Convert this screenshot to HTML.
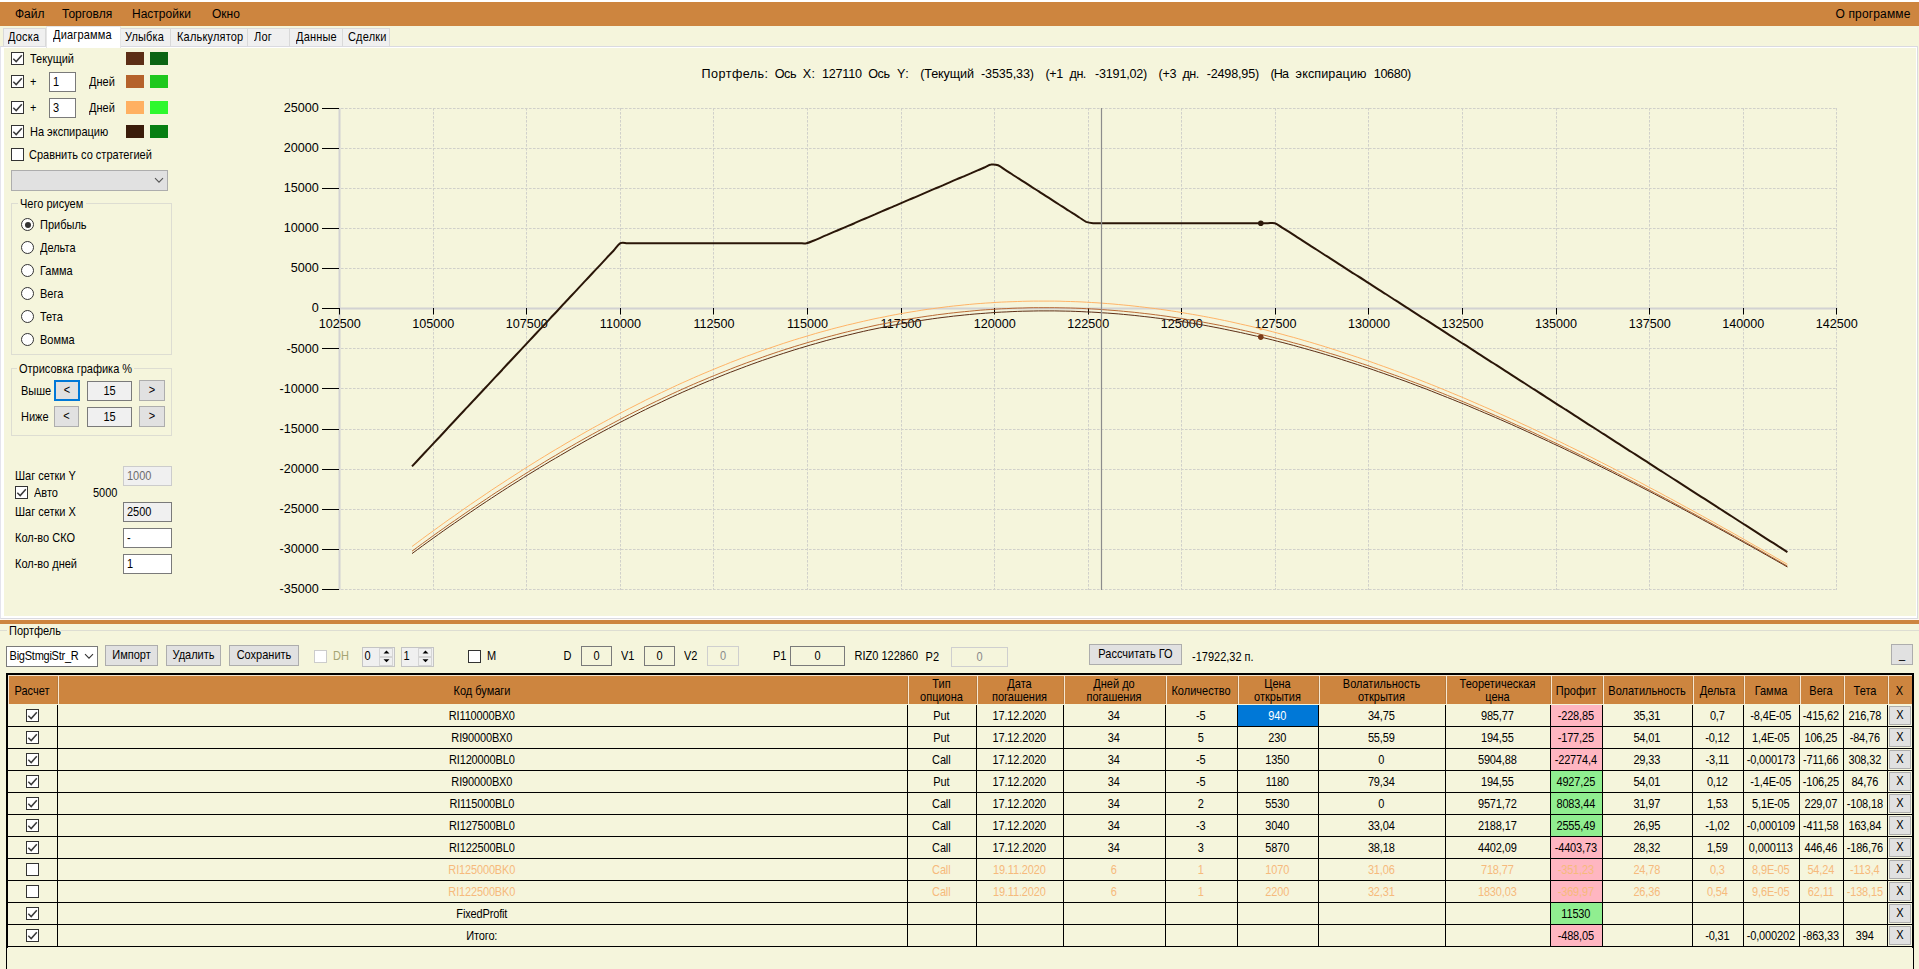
<!DOCTYPE html>
<html lang="ru"><head><meta charset="utf-8"><title>Диаграмма</title>
<style>
html,body{margin:0;padding:0;}
body{width:1919px;height:969px;overflow:hidden;position:relative;background:#F5F5DC;
 font-family:"Liberation Sans",sans-serif;font-size:11px;color:#000;}
div,span.t{position:absolute;box-sizing:content-box;white-space:pre;}
.cb svg{position:absolute;left:-1px;top:-1px;}
.rb{border:1px solid #333;border-radius:50%;background:#fff;}
.rb i{position:absolute;left:2.5px;top:2.5px;width:6px;height:6px;border-radius:50%;background:#333;}
.tb,.btn{overflow:hidden;}
.s{display:inline-block;text-indent:0;transform:scaleY(1.1);transform-origin:50% 66%;}
svg{position:absolute;}
</style></head><body>
<div style="left:0px;top:0px;width:1919px;height:2px;background:#fff;"></div>
<div style="left:0px;top:2px;width:1919px;height:24px;background:#CD853F;"></div>
<span class="t" style="top:5.70px;font-size:12px;line-height:16px;left:15px;">Файл</span>
<span class="t" style="top:5.70px;font-size:12px;line-height:16px;left:62px;">Торговля</span>
<span class="t" style="top:5.70px;font-size:12px;line-height:16px;left:132px;">Настройки</span>
<span class="t" style="top:5.70px;font-size:12px;line-height:16px;left:212px;">Окно</span>
<span class="t" style="top:5.70px;font-size:12px;line-height:16px;left:1510.5px;width:400px;text-align:right;letter-spacing:0.15px;">О программе</span>
<div style="left:3px;top:28px;width:41px;height:18px;background:#F0F0F0;border:1px solid #D9D9D9;border-bottom:none;"></div>
<span class="t" style="top:30.30px;font-size:11px;line-height:14px;transform:scaleY(1.1);transform-origin:0 11.0px;left:8px;letter-spacing:0.18px;">Доска</span>
<div style="left:120px;top:28px;width:49px;height:18px;background:#F0F0F0;border:1px solid #D9D9D9;border-bottom:none;"></div>
<span class="t" style="top:30.30px;font-size:11px;line-height:14px;transform:scaleY(1.1);transform-origin:0 11.0px;left:125px;letter-spacing:0.18px;">Улыбка</span>
<div style="left:170px;top:28px;width:76px;height:18px;background:#F0F0F0;border:1px solid #D9D9D9;border-bottom:none;"></div>
<span class="t" style="top:30.30px;font-size:11px;line-height:14px;transform:scaleY(1.1);transform-origin:0 11.0px;left:177px;letter-spacing:0.18px;">Калькулятор</span>
<div style="left:247px;top:28px;width:41px;height:18px;background:#F0F0F0;border:1px solid #D9D9D9;border-bottom:none;"></div>
<span class="t" style="top:30.30px;font-size:11px;line-height:14px;transform:scaleY(1.1);transform-origin:0 11.0px;left:254px;letter-spacing:0.18px;">Лог</span>
<div style="left:289px;top:28px;width:52px;height:18px;background:#F0F0F0;border:1px solid #D9D9D9;border-bottom:none;"></div>
<span class="t" style="top:30.30px;font-size:11px;line-height:14px;transform:scaleY(1.1);transform-origin:0 11.0px;left:296px;letter-spacing:0.18px;">Данные</span>
<div style="left:342px;top:28px;width:46px;height:18px;background:#F0F0F0;border:1px solid #D9D9D9;border-bottom:none;"></div>
<span class="t" style="top:30.30px;font-size:11px;line-height:14px;transform:scaleY(1.1);transform-origin:0 11.0px;left:348px;letter-spacing:0.18px;">Сделки</span>
<div style="left:0px;top:46px;width:1916px;height:571px;background:#F5F5DC;border:1px solid #DADAE0;border-left:1px solid #E4E4EC;box-shadow:inset 3px 1px 0 #fff, inset -1px -2px 0 #fff;"></div>
<div style="left:46px;top:26px;width:73px;height:21px;background:#fff;border:1px solid #E5E5E5;border-bottom:none;"></div>
<span class="t" style="top:28.20px;font-size:11px;line-height:14px;transform:scaleY(1.1);transform-origin:0 11.0px;left:53px;letter-spacing:0.18px;">Диаграмма</span>
<div class="cb" style="left:11px;top:52px;width:11px;height:11px;border:1px solid #333;background:#fff;"><svg viewBox="0 0 13 13" width="13" height="13"><path d="M2.3 6.8 L5.2 9.6 L10.8 3.2" fill="none" stroke="#3A3A3A" stroke-width="1.5"/></svg></div>
<div style="left:126px;top:52px;width:18px;height:13px;background:#5C2E16;"></div>
<div style="left:150px;top:52px;width:18px;height:13px;background:#0B6413;"></div>
<div class="cb" style="left:11px;top:75px;width:11px;height:11px;border:1px solid #333;background:#fff;"><svg viewBox="0 0 13 13" width="13" height="13"><path d="M2.3 6.8 L5.2 9.6 L10.8 3.2" fill="none" stroke="#3A3A3A" stroke-width="1.5"/></svg></div>
<div style="left:126px;top:75px;width:18px;height:13px;background:#B5622B;"></div>
<div style="left:150px;top:75px;width:18px;height:13px;background:#1EC81E;"></div>
<div class="cb" style="left:11px;top:101px;width:11px;height:11px;border:1px solid #333;background:#fff;"><svg viewBox="0 0 13 13" width="13" height="13"><path d="M2.3 6.8 L5.2 9.6 L10.8 3.2" fill="none" stroke="#3A3A3A" stroke-width="1.5"/></svg></div>
<div style="left:126px;top:101px;width:18px;height:13px;background:#FFB061;"></div>
<div style="left:150px;top:101px;width:18px;height:13px;background:#2EF82E;"></div>
<div class="cb" style="left:11px;top:125px;width:11px;height:11px;border:1px solid #333;background:#fff;"><svg viewBox="0 0 13 13" width="13" height="13"><path d="M2.3 6.8 L5.2 9.6 L10.8 3.2" fill="none" stroke="#3A3A3A" stroke-width="1.5"/></svg></div>
<div style="left:126px;top:125px;width:18px;height:13px;background:#3A1C0A;"></div>
<div style="left:150px;top:125px;width:18px;height:13px;background:#077F12;"></div>
<span class="t" style="top:51.70px;font-size:11px;line-height:14px;transform:scaleY(1.1);transform-origin:0 11.0px;left:30px;">Текущий</span>
<span class="t" style="top:74.70px;font-size:11px;line-height:14px;transform:scaleY(1.1);transform-origin:0 11.0px;left:30px;">+</span>
<div class="tb" style="left:49px;top:72px;width:25px;height:18px;background:#fff;border:1px solid #7A7A7A;color:#000;line-height:18px;text-align:left;text-indent:3px;"><span class="s">1</span></div>
<span class="t" style="top:74.70px;font-size:11px;line-height:14px;transform:scaleY(1.1);transform-origin:0 11.0px;left:89px;">Дней</span>
<span class="t" style="top:100.70px;font-size:11px;line-height:14px;transform:scaleY(1.1);transform-origin:0 11.0px;left:30px;">+</span>
<div class="tb" style="left:49px;top:98px;width:25px;height:18px;background:#fff;border:1px solid #7A7A7A;color:#000;line-height:18px;text-align:left;text-indent:3px;"><span class="s">3</span></div>
<span class="t" style="top:100.70px;font-size:11px;line-height:14px;transform:scaleY(1.1);transform-origin:0 11.0px;left:89px;">Дней</span>
<span class="t" style="top:124.70px;font-size:11px;line-height:14px;transform:scaleY(1.1);transform-origin:0 11.0px;left:30px;">На экспирацию</span>
<div class="cb" style="left:11px;top:148px;width:11px;height:11px;border:1px solid #333;background:#fff;"></div>
<span class="t" style="top:147.70px;font-size:11px;line-height:14px;transform:scaleY(1.1);transform-origin:0 11.0px;left:29px;">Сравнить со стратегией</span>
<div style="left:11px;top:170px;width:155px;height:19px;background:#E1E1E1;border:1px solid #ADADAD;"></div>
<svg style="left:154px;top:177px" width="10" height="7" viewBox="0 0 10 7"><path d="M1 1.2 L5 5.2 L9 1.2" fill="none" stroke="#555" stroke-width="1.1"/></svg>
<div style="left:11px;top:203px;width:159px;height:150px;border:1px solid #DDDDD2;"></div>
<div style="left:18px;top:197px;width:68px;height:13px;background:#F5F5DC;"></div>
<span class="t" style="top:197.30px;font-size:11px;line-height:14px;transform:scaleY(1.1);transform-origin:0 11.0px;left:20px;">Чего рисуем</span>
<div class="rb" style="left:21px;top:218.0px;width:11px;height:11px;"><i></i></div>
<span class="t" style="top:217.70px;font-size:11px;line-height:14px;transform:scaleY(1.1);transform-origin:0 11.0px;left:40px;">Прибыль</span>
<div class="rb" style="left:21px;top:241.0px;width:11px;height:11px;"></div>
<span class="t" style="top:240.70px;font-size:11px;line-height:14px;transform:scaleY(1.1);transform-origin:0 11.0px;left:40px;">Дельта</span>
<div class="rb" style="left:21px;top:264.0px;width:11px;height:11px;"></div>
<span class="t" style="top:263.70px;font-size:11px;line-height:14px;transform:scaleY(1.1);transform-origin:0 11.0px;left:40px;">Гамма</span>
<div class="rb" style="left:21px;top:287.0px;width:11px;height:11px;"></div>
<span class="t" style="top:286.70px;font-size:11px;line-height:14px;transform:scaleY(1.1);transform-origin:0 11.0px;left:40px;">Вега</span>
<div class="rb" style="left:21px;top:310.0px;width:11px;height:11px;"></div>
<span class="t" style="top:309.70px;font-size:11px;line-height:14px;transform:scaleY(1.1);transform-origin:0 11.0px;left:40px;">Тета</span>
<div class="rb" style="left:21px;top:333.0px;width:11px;height:11px;"></div>
<span class="t" style="top:332.70px;font-size:11px;line-height:14px;transform:scaleY(1.1);transform-origin:0 11.0px;left:40px;">Вомма</span>
<div style="left:11px;top:368px;width:159px;height:66px;border:1px solid #DDDDD2;"></div>
<div style="left:17px;top:362px;width:117px;height:13px;background:#F5F5DC;"></div>
<span class="t" style="top:362.30px;font-size:11px;line-height:14px;transform:scaleY(1.1);transform-origin:0 11.0px;left:19px;">Отрисовка графика %</span>
<span class="t" style="top:383.60px;font-size:11px;line-height:14px;transform:scaleY(1.1);transform-origin:0 11.0px;left:21px;">Выше</span>
<div class="btn" style="left:54px;top:380px;width:22px;height:17px;background:#E1E1E1;border:2px solid #0078D7;line-height:17px;text-align:center;font-size:11px;"><span class="s">&lt;</span></div>
<div class="tb" style="left:87px;top:381px;width:43px;height:18px;background:#F0F0F0;border:1px solid #7A7A7A;color:#000;line-height:18px;text-align:center;text-indent:0px;"><span class="s">15</span></div>
<div class="btn" style="left:139px;top:380px;width:24px;height:19px;background:#E1E1E1;border:1px solid #ADADAD;line-height:19px;text-align:center;font-size:11px;"><span class="s">&gt;</span></div>
<span class="t" style="top:409.60px;font-size:11px;line-height:14px;transform:scaleY(1.1);transform-origin:0 11.0px;left:21px;">Ниже</span>
<div class="btn" style="left:54px;top:406px;width:23px;height:19px;background:#E1E1E1;border:1px solid #ADADAD;line-height:19px;text-align:center;font-size:11px;"><span class="s">&lt;</span></div>
<div class="tb" style="left:87px;top:407px;width:43px;height:18px;background:#F0F0F0;border:1px solid #7A7A7A;color:#000;line-height:18px;text-align:center;text-indent:0px;"><span class="s">15</span></div>
<div class="btn" style="left:139px;top:406px;width:24px;height:19px;background:#E1E1E1;border:1px solid #ADADAD;line-height:19px;text-align:center;font-size:11px;"><span class="s">&gt;</span></div>
<span class="t" style="top:468.70px;font-size:11px;line-height:14px;transform:scaleY(1.1);transform-origin:0 11.0px;left:15px;">Шаг сетки Y</span>
<div class="tb" style="left:123px;top:466px;width:47px;height:18px;background:#F0F0F0;border:1px solid #CCCCCC;color:#6D6D6D;line-height:18px;text-align:left;text-indent:3px;"><span class="s">1000</span></div>
<div class="cb" style="left:15px;top:486px;width:11px;height:11px;border:1px solid #333;background:#fff;"><svg viewBox="0 0 13 13" width="13" height="13"><path d="M2.3 6.8 L5.2 9.6 L10.8 3.2" fill="none" stroke="#3A3A3A" stroke-width="1.5"/></svg></div>
<span class="t" style="top:485.90px;font-size:11px;line-height:14px;transform:scaleY(1.1);transform-origin:0 11.0px;left:34px;">Авто</span>
<span class="t" style="top:485.90px;font-size:11px;line-height:14px;transform:scaleY(1.1);transform-origin:0 11.0px;left:93px;">5000</span>
<span class="t" style="top:504.60px;font-size:11px;line-height:14px;transform:scaleY(1.1);transform-origin:0 11.0px;left:15px;">Шаг сетки X</span>
<div class="tb" style="left:123px;top:502px;width:47px;height:18px;background:#F0F0F0;border:1px solid #7A7A7A;color:#000;line-height:18px;text-align:left;text-indent:3px;"><span class="s">2500</span></div>
<span class="t" style="top:530.90px;font-size:11px;line-height:14px;transform:scaleY(1.1);transform-origin:0 11.0px;left:15px;">Кол-во СКО</span>
<div class="tb" style="left:123px;top:528px;width:47px;height:18px;background:#fff;border:1px solid #7A7A7A;color:#000;line-height:18px;text-align:left;text-indent:3px;"><span class="s">-</span></div>
<span class="t" style="top:556.90px;font-size:11px;line-height:14px;transform:scaleY(1.1);transform-origin:0 11.0px;left:15px;">Кол-во дней</span>
<div class="tb" style="left:123px;top:554px;width:47px;height:18px;background:#fff;border:1px solid #7A7A7A;color:#000;line-height:18px;text-align:left;text-indent:3px;"><span class="s">1</span></div>
<svg style="left:0;top:47px" width="1916" height="569" viewBox="0 47 1916 569" font-family="'Liberation Sans',sans-serif">
<path d="M341 108.5H1837 M341 148.5H1837 M341 188.5H1837 M341 228.5H1837 M341 268.5H1837 M341 348.5H1837 M341 388.5H1837 M341 429.5H1837 M341 469.5H1837 M341 509.5H1837 M341 549.5H1837 M341 589.5H1837 M433.5 108V590 M526.5 108V590 M620.5 108V590 M713.5 108V590 M807.5 108V590 M901.5 108V590 M994.5 108V590 M1088.5 108V590 M1181.5 108V590 M1275.5 108V590 M1368.5 108V590 M1462.5 108V590 M1556.5 108V590 M1649.5 108V590 M1743.5 108V590 M1836.5 108V590" stroke="#D0D0CA" stroke-width="1" stroke-dasharray="2.6 1.4" fill="none"/>
<path d="M339.5 108V590 M339 308.5H1837.5" stroke="#D2D2D2" stroke-width="2" fill="none"/>
<path d="M322 108.5H339 M322 148.5H339 M322 188.5H339 M322 228.5H339 M322 268.5H339 M322 308.5H339 M322 348.5H339 M322 388.5H339 M322 429.5H339 M322 469.5H339 M322 509.5H339 M322 549.5H339 M322 589.5H339 M339.5 308V314.5 M433.5 308V314.5 M526.5 308V314.5 M620.5 308V314.5 M713.5 308V314.5 M807.5 308V314.5 M901.5 308V314.5 M994.5 308V314.5 M1088.5 308V314.5 M1181.5 308V314.5 M1275.5 308V314.5 M1368.5 308V314.5 M1462.5 308V314.5 M1556.5 308V314.5 M1649.5 308V314.5 M1743.5 308V314.5 M1836.5 308V314.5" stroke="#000" stroke-width="1" fill="none"/>
<text transform="translate(318.8 112.0) scale(1 1.07)" font-size="12.6" text-anchor="end">25000</text>
<text transform="translate(318.8 152.1) scale(1 1.07)" font-size="12.6" text-anchor="end">20000</text>
<text transform="translate(318.8 192.2) scale(1 1.07)" font-size="12.6" text-anchor="end">15000</text>
<text transform="translate(318.8 232.3) scale(1 1.07)" font-size="12.6" text-anchor="end">10000</text>
<text transform="translate(318.8 272.3) scale(1 1.07)" font-size="12.6" text-anchor="end">5000</text>
<text transform="translate(318.8 312.4) scale(1 1.07)" font-size="12.6" text-anchor="end">0</text>
<text transform="translate(318.8 352.5) scale(1 1.07)" font-size="12.6" text-anchor="end">-5000</text>
<text transform="translate(318.8 392.6) scale(1 1.07)" font-size="12.6" text-anchor="end">-10000</text>
<text transform="translate(318.8 432.6) scale(1 1.07)" font-size="12.6" text-anchor="end">-15000</text>
<text transform="translate(318.8 472.7) scale(1 1.07)" font-size="12.6" text-anchor="end">-20000</text>
<text transform="translate(318.8 512.8) scale(1 1.07)" font-size="12.6" text-anchor="end">-25000</text>
<text transform="translate(318.8 552.9) scale(1 1.07)" font-size="12.6" text-anchor="end">-30000</text>
<text transform="translate(318.8 592.9) scale(1 1.07)" font-size="12.6" text-anchor="end">-35000</text>
<text transform="translate(339.7 327.8) scale(1 1.07)" font-size="12.6" text-anchor="middle">102500</text>
<text transform="translate(433.3 327.8) scale(1 1.07)" font-size="12.6" text-anchor="middle">105000</text>
<text transform="translate(526.8 327.8) scale(1 1.07)" font-size="12.6" text-anchor="middle">107500</text>
<text transform="translate(620.4 327.8) scale(1 1.07)" font-size="12.6" text-anchor="middle">110000</text>
<text transform="translate(714.0 327.8) scale(1 1.07)" font-size="12.6" text-anchor="middle">112500</text>
<text transform="translate(807.5 327.8) scale(1 1.07)" font-size="12.6" text-anchor="middle">115000</text>
<text transform="translate(901.1 327.8) scale(1 1.07)" font-size="12.6" text-anchor="middle">117500</text>
<text transform="translate(994.7 327.8) scale(1 1.07)" font-size="12.6" text-anchor="middle">120000</text>
<text transform="translate(1088.3 327.8) scale(1 1.07)" font-size="12.6" text-anchor="middle">122500</text>
<text transform="translate(1181.8 327.8) scale(1 1.07)" font-size="12.6" text-anchor="middle">125000</text>
<text transform="translate(1275.4 327.8) scale(1 1.07)" font-size="12.6" text-anchor="middle">127500</text>
<text transform="translate(1369.0 327.8) scale(1 1.07)" font-size="12.6" text-anchor="middle">130000</text>
<text transform="translate(1462.5 327.8) scale(1 1.07)" font-size="12.6" text-anchor="middle">132500</text>
<text transform="translate(1556.1 327.8) scale(1 1.07)" font-size="12.6" text-anchor="middle">135000</text>
<text transform="translate(1649.7 327.8) scale(1 1.07)" font-size="12.6" text-anchor="middle">137500</text>
<text transform="translate(1743.3 327.8) scale(1 1.07)" font-size="12.6" text-anchor="middle">140000</text>
<text transform="translate(1836.8 327.8) scale(1 1.07)" font-size="12.6" text-anchor="middle">142500</text>
<text transform="translate(0 78) scale(1 1.06)" font-size="12.6"><tspan x="701.6" textLength="66.4" lengthAdjust="spacing">Портфель:</tspan> <tspan x="774.8" textLength="21.7" lengthAdjust="spacing">Ось</tspan> <tspan x="802.7" textLength="12.3" lengthAdjust="spacing">X:</tspan> <tspan x="822" textLength="40.0" lengthAdjust="spacing">127110</tspan> <tspan x="868.2" textLength="21.8" lengthAdjust="spacing">Ось</tspan> <tspan x="897" textLength="11.7" lengthAdjust="spacing">Y:</tspan> <tspan x="920.2" textLength="53.8" lengthAdjust="spacing">(Текущий</tspan> <tspan x="981" textLength="53.0" lengthAdjust="spacing">-3535,33)</tspan> <tspan x="1045.6" textLength="17.7" lengthAdjust="spacing">(+1</tspan> <tspan x="1069.6" textLength="16.7" lengthAdjust="spacing">дн.</tspan> <tspan x="1095" textLength="52.3" lengthAdjust="spacing">-3191,02)</tspan> <tspan x="1158.5" textLength="18.0" lengthAdjust="spacing">(+3</tspan> <tspan x="1182.5" textLength="16.7" lengthAdjust="spacing">дн.</tspan> <tspan x="1206.7" textLength="52.5" lengthAdjust="spacing">-2498,95)</tspan> <tspan x="1270.6" textLength="18.4" lengthAdjust="spacing">(На</tspan> <tspan x="1295.6" textLength="70.9" lengthAdjust="spacing">экспирацию</tspan> <tspan x="1373.8" textLength="37.5" lengthAdjust="spacing">10680)</tspan> </text>
<path d="M412.0 546.5 L417.3 542.6 L422.6 538.6 L427.9 534.7 L433.2 530.9 L438.5 527.0 L443.8 523.2 L449.1 519.4 L454.5 515.7 L459.8 511.9 L465.1 508.2 L470.4 504.5 L475.7 500.9 L481.0 497.3 L486.3 493.7 L491.6 490.1 L496.9 486.6 L502.3 483.1 L507.6 479.6 L512.9 476.2 L518.2 472.8 L523.5 469.4 L528.8 466.0 L534.1 462.7 L539.4 459.4 L544.7 456.2 L550.0 452.9 L555.4 449.7 L560.7 446.6 L566.0 443.4 L571.3 440.3 L576.6 437.3 L581.9 434.2 L587.2 431.2 L592.5 428.2 L597.8 425.3 L603.2 422.4 L608.5 419.5 L613.8 416.6 L619.1 413.8 L624.4 411.0 L629.7 408.3 L635.0 405.6 L640.3 402.9 L645.6 400.2 L650.9 397.6 L656.3 395.0 L661.6 392.5 L666.9 390.0 L672.2 387.5 L677.5 385.0 L682.8 382.6 L688.1 380.3 L693.4 377.9 L698.7 375.6 L704.1 373.3 L709.4 371.1 L714.7 368.9 L720.0 366.7 L725.3 364.6 L730.6 362.4 L735.9 360.4 L741.2 358.3 L746.5 356.3 L751.9 354.4 L757.2 352.4 L762.5 350.5 L767.8 348.7 L773.1 346.9 L778.4 345.1 L783.7 343.3 L789.0 341.6 L794.3 339.9 L799.6 338.3 L805.0 336.7 L810.3 335.1 L815.6 333.5 L820.9 332.0 L826.2 330.6 L831.5 329.1 L836.8 327.7 L842.1 326.4 L847.4 325.0 L852.8 323.8 L858.1 322.5 L863.4 321.3 L868.7 320.1 L874.0 318.9 L879.3 317.8 L884.6 316.8 L889.9 315.7 L895.2 314.7 L900.5 313.7 L905.9 312.8 L911.2 311.9 L916.5 311.1 L921.8 310.2 L927.1 309.4 L932.4 308.7 L937.7 308.0 L943.0 307.3 L948.3 306.6 L953.7 306.0 L959.0 305.5 L964.3 304.9 L969.6 304.4 L974.9 303.9 L980.2 303.5 L985.5 303.1 L990.8 302.8 L996.1 302.4 L1001.4 302.1 L1006.8 301.9 L1012.1 301.7 L1017.4 301.5 L1022.7 301.3 L1028.0 301.2 L1033.3 301.1 L1038.6 301.1 L1043.9 301.1 L1049.2 301.1 L1054.6 301.1 L1059.9 301.2 L1065.2 301.4 L1070.5 301.5 L1075.8 301.7 L1081.1 301.9 L1086.4 302.2 L1091.7 302.5 L1097.0 302.8 L1102.3 303.2 L1107.7 303.6 L1113.0 304.0 L1118.3 304.5 L1123.6 305.0 L1128.9 305.5 L1134.2 306.1 L1139.5 306.7 L1144.8 307.3 L1150.1 308.0 L1155.5 308.6 L1160.8 309.4 L1166.1 310.1 L1171.4 310.9 L1176.7 311.7 L1182.0 312.6 L1187.3 313.5 L1192.6 314.4 L1197.9 315.3 L1203.3 316.3 L1208.6 317.3 L1213.9 318.3 L1219.2 319.4 L1224.5 320.5 L1229.8 321.6 L1235.1 322.8 L1240.4 324.0 L1245.7 325.2 L1251.0 326.4 L1256.4 327.7 L1261.7 329.0 L1267.0 330.3 L1272.3 331.7 L1277.6 333.1 L1282.9 334.5 L1288.2 336.0 L1293.5 337.4 L1298.8 338.9 L1304.2 340.5 L1309.5 342.0 L1314.8 343.6 L1320.1 345.2 L1325.4 346.8 L1330.7 348.5 L1336.0 350.2 L1341.3 351.9 L1346.6 353.6 L1351.9 355.4 L1357.3 357.2 L1362.6 359.0 L1367.9 360.8 L1373.2 362.7 L1378.5 364.6 L1383.8 366.5 L1389.1 368.4 L1394.4 370.4 L1399.7 372.3 L1405.1 374.3 L1410.4 376.4 L1415.7 378.4 L1421.0 380.5 L1426.3 382.6 L1431.6 384.7 L1436.9 386.8 L1442.2 389.0 L1447.5 391.2 L1452.8 393.4 L1458.2 395.6 L1463.5 397.8 L1468.8 400.1 L1474.1 402.4 L1479.4 404.7 L1484.7 407.0 L1490.0 409.3 L1495.3 411.7 L1500.6 414.1 L1506.0 416.5 L1511.3 418.9 L1516.6 421.3 L1521.9 423.8 L1527.2 426.2 L1532.5 428.7 L1537.8 431.2 L1543.1 433.7 L1548.4 436.3 L1553.7 438.8 L1559.1 441.4 L1564.4 444.0 L1569.7 446.6 L1575.0 449.2 L1580.3 451.8 L1585.6 454.5 L1590.9 457.1 L1596.2 459.8 L1601.5 462.5 L1606.9 465.2 L1612.2 467.9 L1617.5 470.7 L1622.8 473.4 L1628.1 476.2 L1633.4 478.9 L1638.7 481.7 L1644.0 484.5 L1649.3 487.4 L1654.7 490.2 L1660.0 493.0 L1665.3 495.9 L1670.6 498.7 L1675.9 501.6 L1681.2 504.5 L1686.5 507.4 L1691.8 510.3 L1697.1 513.2 L1702.4 516.1 L1707.8 519.1 L1713.1 522.0 L1718.4 525.0 L1723.7 528.0 L1729.0 530.9 L1734.3 533.9 L1739.6 536.9 L1744.9 539.9 L1750.2 543.0 L1755.6 546.0 L1760.9 549.0 L1766.2 552.1 L1771.5 555.1 L1776.8 558.2 L1782.1 561.2 L1787.4 564.3" stroke="#FFB061" stroke-width="0.95" fill="none"/>
<path d="M412.0 551.2 L417.3 547.3 L422.6 543.4 L427.9 539.6 L433.2 535.7 L438.5 531.9 L443.8 528.2 L449.1 524.4 L454.5 520.7 L459.8 517.0 L465.1 513.3 L470.4 509.7 L475.7 506.1 L481.0 502.5 L486.3 499.0 L491.6 495.4 L496.9 491.9 L502.3 488.5 L507.6 485.0 L512.9 481.6 L518.2 478.3 L523.5 474.9 L528.8 471.6 L534.1 468.3 L539.4 465.1 L544.7 461.8 L550.0 458.6 L555.4 455.5 L560.7 452.3 L566.0 449.2 L571.3 446.2 L576.6 443.1 L581.9 440.1 L587.2 437.1 L592.5 434.2 L597.8 431.3 L603.2 428.4 L608.5 425.5 L613.8 422.7 L619.1 419.9 L624.4 417.2 L629.7 414.4 L635.0 411.7 L640.3 409.1 L645.6 406.5 L650.9 403.9 L656.3 401.3 L661.6 398.8 L666.9 396.3 L672.2 393.8 L677.5 391.4 L682.8 389.0 L688.1 386.6 L693.4 384.3 L698.7 382.0 L704.1 379.8 L709.4 377.5 L714.7 375.4 L720.0 373.2 L725.3 371.1 L730.6 369.0 L735.9 366.9 L741.2 364.9 L746.5 362.9 L751.9 361.0 L757.2 359.1 L762.5 357.2 L767.8 355.3 L773.1 353.5 L778.4 351.7 L783.7 350.0 L789.0 348.3 L794.3 346.6 L799.6 345.0 L805.0 343.4 L810.3 341.8 L815.6 340.3 L820.9 338.8 L826.2 337.3 L831.5 335.9 L836.8 334.5 L842.1 333.1 L847.4 331.8 L852.8 330.5 L858.1 329.3 L863.4 328.1 L868.7 326.9 L874.0 325.7 L879.3 324.6 L884.6 323.6 L889.9 322.5 L895.2 321.5 L900.5 320.5 L905.9 319.6 L911.2 318.7 L916.5 317.8 L921.8 317.0 L927.1 316.2 L932.4 315.5 L937.7 314.7 L943.0 314.1 L948.3 313.4 L953.7 312.8 L959.0 312.2 L964.3 311.7 L969.6 311.2 L974.9 310.7 L980.2 310.2 L985.5 309.8 L990.8 309.5 L996.1 309.1 L1001.4 308.8 L1006.8 308.6 L1012.1 308.3 L1017.4 308.1 L1022.7 308.0 L1028.0 307.8 L1033.3 307.7 L1038.6 307.7 L1043.9 307.7 L1049.2 307.7 L1054.6 307.7 L1059.9 307.8 L1065.2 307.9 L1070.5 308.0 L1075.8 308.2 L1081.1 308.4 L1086.4 308.7 L1091.7 308.9 L1097.0 309.2 L1102.3 309.6 L1107.7 310.0 L1113.0 310.4 L1118.3 310.8 L1123.6 311.3 L1128.9 311.8 L1134.2 312.3 L1139.5 312.9 L1144.8 313.5 L1150.1 314.1 L1155.5 314.8 L1160.8 315.5 L1166.1 316.2 L1171.4 317.0 L1176.7 317.8 L1182.0 318.6 L1187.3 319.5 L1192.6 320.3 L1197.9 321.3 L1203.3 322.2 L1208.6 323.2 L1213.9 324.2 L1219.2 325.2 L1224.5 326.3 L1229.8 327.4 L1235.1 328.5 L1240.4 329.7 L1245.7 330.9 L1251.0 332.1 L1256.4 333.3 L1261.7 334.6 L1267.0 335.9 L1272.3 337.2 L1277.6 338.6 L1282.9 339.9 L1288.2 341.3 L1293.5 342.8 L1298.8 344.2 L1304.2 345.7 L1309.5 347.2 L1314.8 348.8 L1320.1 350.4 L1325.4 352.0 L1330.7 353.6 L1336.0 355.2 L1341.3 356.9 L1346.6 358.6 L1351.9 360.3 L1357.3 362.1 L1362.6 363.8 L1367.9 365.6 L1373.2 367.5 L1378.5 369.3 L1383.8 371.2 L1389.1 373.1 L1394.4 375.0 L1399.7 376.9 L1405.1 378.9 L1410.4 380.9 L1415.7 382.9 L1421.0 384.9 L1426.3 386.9 L1431.6 389.0 L1436.9 391.1 L1442.2 393.2 L1447.5 395.4 L1452.8 397.5 L1458.2 399.7 L1463.5 401.9 L1468.8 404.1 L1474.1 406.4 L1479.4 408.6 L1484.7 410.9 L1490.0 413.2 L1495.3 415.5 L1500.6 417.8 L1506.0 420.2 L1511.3 422.6 L1516.6 425.0 L1521.9 427.4 L1527.2 429.8 L1532.5 432.2 L1537.8 434.7 L1543.1 437.2 L1548.4 439.7 L1553.7 442.2 L1559.1 444.7 L1564.4 447.3 L1569.7 449.8 L1575.0 452.4 L1580.3 455.0 L1585.6 457.6 L1590.9 460.2 L1596.2 462.8 L1601.5 465.5 L1606.9 468.2 L1612.2 470.8 L1617.5 473.5 L1622.8 476.3 L1628.1 479.0 L1633.4 481.7 L1638.7 484.5 L1644.0 487.2 L1649.3 490.0 L1654.7 492.8 L1660.0 495.6 L1665.3 498.4 L1670.6 501.2 L1675.9 504.1 L1681.2 506.9 L1686.5 509.8 L1691.8 512.6 L1697.1 515.5 L1702.4 518.4 L1707.8 521.3 L1713.1 524.2 L1718.4 527.2 L1723.7 530.1 L1729.0 533.0 L1734.3 536.0 L1739.6 539.0 L1744.9 541.9 L1750.2 544.9 L1755.6 547.9 L1760.9 550.9 L1766.2 553.9 L1771.5 557.0 L1776.8 560.0 L1782.1 563.0 L1787.4 566.1" stroke="#B5622B" stroke-width="0.95" fill="none"/>
<path d="M412.0 553.6 L417.3 549.7 L422.6 545.8 L427.9 542.0 L433.2 538.2 L438.5 534.4 L443.8 530.6 L449.1 526.9 L454.5 523.2 L459.8 519.5 L465.1 515.9 L470.4 512.3 L475.7 508.7 L481.0 505.1 L486.3 501.6 L491.6 498.1 L496.9 494.6 L502.3 491.1 L507.6 487.7 L512.9 484.3 L518.2 481.0 L523.5 477.6 L528.8 474.3 L534.1 471.1 L539.4 467.8 L544.7 464.6 L550.0 461.4 L555.4 458.3 L560.7 455.2 L566.0 452.1 L571.3 449.0 L576.6 446.0 L581.9 443.0 L587.2 440.0 L592.5 437.1 L597.8 434.2 L603.2 431.3 L608.5 428.5 L613.8 425.7 L619.1 422.9 L624.4 420.2 L629.7 417.5 L635.0 414.8 L640.3 412.1 L645.6 409.5 L650.9 406.9 L656.3 404.4 L661.6 401.9 L666.9 399.4 L672.2 396.9 L677.5 394.5 L682.8 392.1 L688.1 389.8 L693.4 387.5 L698.7 385.2 L704.1 382.9 L709.4 380.7 L714.7 378.6 L720.0 376.4 L725.3 374.3 L730.6 372.2 L735.9 370.2 L741.2 368.2 L746.5 366.2 L751.9 364.2 L757.2 362.3 L762.5 360.4 L767.8 358.6 L773.1 356.8 L778.4 355.0 L783.7 353.3 L789.0 351.6 L794.3 349.9 L799.6 348.3 L805.0 346.7 L810.3 345.1 L815.6 343.6 L820.9 342.1 L826.2 340.6 L831.5 339.2 L836.8 337.8 L842.1 336.5 L847.4 335.2 L852.8 333.9 L858.1 332.6 L863.4 331.4 L868.7 330.2 L874.0 329.1 L879.3 328.0 L884.6 326.9 L889.9 325.9 L895.2 324.9 L900.5 323.9 L905.9 323.0 L911.2 322.1 L916.5 321.2 L921.8 320.4 L927.1 319.6 L932.4 318.8 L937.7 318.1 L943.0 317.4 L948.3 316.8 L953.7 316.1 L959.0 315.6 L964.3 315.0 L969.6 314.5 L974.9 314.0 L980.2 313.6 L985.5 313.2 L990.8 312.8 L996.1 312.4 L1001.4 312.1 L1006.8 311.9 L1012.1 311.6 L1017.4 311.4 L1022.7 311.2 L1028.0 311.1 L1033.3 311.0 L1038.6 310.9 L1043.9 310.9 L1049.2 310.9 L1054.6 310.9 L1059.9 311.0 L1065.2 311.1 L1070.5 311.2 L1075.8 311.4 L1081.1 311.6 L1086.4 311.9 L1091.7 312.1 L1097.0 312.4 L1102.3 312.8 L1107.7 313.1 L1113.0 313.5 L1118.3 313.9 L1123.6 314.4 L1128.9 314.9 L1134.2 315.4 L1139.5 316.0 L1144.8 316.6 L1150.1 317.2 L1155.5 317.9 L1160.8 318.5 L1166.1 319.3 L1171.4 320.0 L1176.7 320.8 L1182.0 321.6 L1187.3 322.4 L1192.6 323.3 L1197.9 324.2 L1203.3 325.1 L1208.6 326.1 L1213.9 327.1 L1219.2 328.1 L1224.5 329.2 L1229.8 330.3 L1235.1 331.4 L1240.4 332.5 L1245.7 333.7 L1251.0 334.9 L1256.4 336.1 L1261.7 337.3 L1267.0 338.6 L1272.3 339.9 L1277.6 341.3 L1282.9 342.6 L1288.2 344.0 L1293.5 345.4 L1298.8 346.9 L1304.2 348.4 L1309.5 349.9 L1314.8 351.4 L1320.1 352.9 L1325.4 354.5 L1330.7 356.1 L1336.0 357.7 L1341.3 359.4 L1346.6 361.1 L1351.9 362.8 L1357.3 364.5 L1362.6 366.3 L1367.9 368.0 L1373.2 369.8 L1378.5 371.7 L1383.8 373.5 L1389.1 375.4 L1394.4 377.3 L1399.7 379.2 L1405.1 381.1 L1410.4 383.1 L1415.7 385.1 L1421.0 387.1 L1426.3 389.1 L1431.6 391.2 L1436.9 393.3 L1442.2 395.4 L1447.5 397.5 L1452.8 399.6 L1458.2 401.8 L1463.5 403.9 L1468.8 406.1 L1474.1 408.4 L1479.4 410.6 L1484.7 412.9 L1490.0 415.1 L1495.3 417.4 L1500.6 419.7 L1506.0 422.1 L1511.3 424.4 L1516.6 426.8 L1521.9 429.2 L1527.2 431.6 L1532.5 434.0 L1537.8 436.5 L1543.1 438.9 L1548.4 441.4 L1553.7 443.9 L1559.1 446.4 L1564.4 448.9 L1569.7 451.5 L1575.0 454.0 L1580.3 456.6 L1585.6 459.2 L1590.9 461.8 L1596.2 464.4 L1601.5 467.0 L1606.9 469.7 L1612.2 472.3 L1617.5 475.0 L1622.8 477.7 L1628.1 480.4 L1633.4 483.1 L1638.7 485.8 L1644.0 488.6 L1649.3 491.3 L1654.7 494.1 L1660.0 496.9 L1665.3 499.7 L1670.6 502.5 L1675.9 505.3 L1681.2 508.1 L1686.5 511.0 L1691.8 513.8 L1697.1 516.7 L1702.4 519.6 L1707.8 522.5 L1713.1 525.4 L1718.4 528.3 L1723.7 531.2 L1729.0 534.1 L1734.3 537.1 L1739.6 540.0 L1744.9 543.0 L1750.2 545.9 L1755.6 548.9 L1760.9 551.9 L1766.2 554.9 L1771.5 557.9 L1776.8 560.9 L1782.1 563.9 L1787.4 567.0" stroke="#5C2E16" stroke-width="1.0" fill="none"/>
<path d="M412.0 466.4 C413.1 465.2 416.6 461.5 418.9 459.0 C421.2 456.5 423.6 454.0 425.9 451.5 C428.2 449.1 430.5 446.6 432.8 444.1 C435.1 441.6 437.4 439.1 439.8 436.7 C442.1 434.2 444.4 431.7 446.7 429.2 C449.0 426.7 451.3 424.3 453.7 421.8 C456.0 419.3 458.3 416.8 460.6 414.3 C462.9 411.9 465.2 409.4 467.6 406.9 C469.9 404.4 472.2 401.9 474.5 399.5 C476.8 397.0 479.1 394.5 481.5 392.0 C483.8 389.5 486.1 387.1 488.4 384.6 C490.7 382.1 493.0 379.6 495.3 377.1 C497.7 374.7 500.0 372.2 502.3 369.7 C504.6 367.2 506.9 364.7 509.2 362.3 C511.6 359.8 513.9 357.3 516.2 354.8 C518.5 352.3 520.8 349.9 523.1 347.4 C525.5 344.9 527.8 342.4 530.1 339.9 C532.4 337.5 534.7 335.0 537.0 332.5 C539.4 330.0 541.7 327.5 544.0 325.1 C546.3 322.6 548.6 320.1 550.9 317.6 C553.2 315.2 555.6 312.7 557.9 310.2 C560.2 307.7 562.5 305.2 564.8 302.8 C567.1 300.3 569.5 297.8 571.8 295.3 C574.1 292.8 576.4 290.4 578.7 287.9 C581.0 285.4 583.4 282.9 585.7 280.4 C588.0 278.0 590.3 275.5 592.6 273.0 C594.9 270.5 597.3 268.0 599.6 265.6 C601.9 263.1 604.2 260.6 606.5 258.1 C608.8 255.6 611.1 253.2 613.5 250.7 C615.8 248.2 618.1 244.5 620.4 243.2 C622.7 242.0 625.0 243.2 627.3 243.2 C629.6 243.2 631.9 243.2 634.2 243.2 C636.5 243.2 638.8 243.2 641.1 243.2 C643.4 243.2 645.7 243.2 648.0 243.2 C650.3 243.2 652.6 243.2 654.9 243.2 C657.2 243.2 659.5 243.2 661.8 243.2 C664.1 243.2 666.4 243.2 668.7 243.2 C671.0 243.2 673.3 243.2 675.6 243.2 C677.9 243.2 680.2 243.2 682.4 243.2 C684.7 243.2 687.0 243.2 689.3 243.2 C691.6 243.2 693.9 243.2 696.2 243.2 C698.5 243.2 700.8 243.2 703.1 243.2 C705.4 243.2 707.7 243.2 710.0 243.2 C712.3 243.2 714.6 243.2 716.9 243.2 C719.2 243.2 721.5 243.2 723.8 243.2 C726.1 243.2 728.4 243.2 730.7 243.2 C733.0 243.2 735.3 243.2 737.6 243.2 C739.9 243.2 742.2 243.2 744.5 243.2 C746.8 243.2 749.1 243.2 751.4 243.2 C753.7 243.2 756.0 243.2 758.3 243.2 C760.6 243.2 762.9 243.2 765.2 243.2 C767.5 243.2 769.8 243.2 772.1 243.2 C774.3 243.2 776.6 243.2 778.9 243.2 C781.2 243.2 783.5 243.2 785.8 243.2 C788.1 243.2 790.4 243.2 792.7 243.2 C795.0 243.2 797.3 243.2 799.6 243.2 C801.9 243.2 804.2 243.7 806.5 243.2 C808.8 242.8 811.1 241.6 813.4 240.7 C815.7 239.8 818.0 238.8 820.3 237.8 C822.5 236.8 824.8 235.8 827.1 234.9 C829.4 233.9 831.7 232.9 833.9 231.9 C836.2 231.0 838.5 230.0 840.8 229.0 C843.1 228.0 845.3 227.1 847.6 226.1 C849.9 225.1 852.2 224.1 854.5 223.2 C856.7 222.2 859.0 221.2 861.3 220.2 C863.6 219.2 865.8 218.3 868.1 217.3 C870.4 216.3 872.7 215.3 875.0 214.4 C877.2 213.4 879.5 212.4 881.8 211.4 C884.1 210.5 886.4 209.5 888.6 208.5 C890.9 207.5 893.2 206.6 895.5 205.6 C897.8 204.6 900.0 203.6 902.3 202.6 C904.6 201.7 906.9 200.7 909.2 199.7 C911.4 198.7 913.7 197.8 916.0 196.8 C918.3 195.8 920.6 194.8 922.8 193.9 C925.1 192.9 927.4 191.9 929.7 190.9 C932.0 190.0 934.2 189.0 936.5 188.0 C938.8 187.0 941.1 186.0 943.4 185.1 C945.6 184.1 947.9 183.1 950.2 182.1 C952.5 181.2 954.8 180.2 957.0 179.2 C959.3 178.2 961.6 177.3 963.9 176.3 C966.2 175.3 968.4 174.3 970.7 173.4 C973.0 172.4 975.3 171.4 977.6 170.4 C979.8 169.4 982.1 168.5 984.4 167.5 C986.7 166.5 989.0 164.9 991.2 164.6 C993.5 164.2 995.9 164.5 998.1 165.3 C1000.4 166.2 1002.7 168.2 1004.9 169.7 C1007.2 171.1 1009.4 172.6 1011.7 174.0 C1013.9 175.5 1016.2 176.9 1018.5 178.4 C1020.7 179.8 1023.0 181.3 1025.2 182.7 C1027.5 184.2 1029.7 185.6 1032.0 187.1 C1034.3 188.5 1036.5 190.0 1038.8 191.4 C1041.0 192.9 1043.3 194.3 1045.6 195.8 C1047.8 197.2 1050.1 198.7 1052.3 200.1 C1054.6 201.6 1056.8 203.0 1059.1 204.5 C1061.4 205.9 1063.6 207.4 1065.9 208.8 C1068.1 210.3 1070.4 211.7 1072.6 213.2 C1074.9 214.6 1077.2 216.1 1079.4 217.5 C1081.7 219.0 1083.9 220.9 1086.2 221.9 C1088.5 222.8 1090.8 223.0 1093.1 223.2 C1095.4 223.4 1097.7 223.2 1100.1 223.2 C1102.4 223.2 1104.7 223.2 1107.1 223.2 C1109.4 223.2 1111.7 223.2 1114.1 223.2 C1116.4 223.2 1118.7 223.2 1121.1 223.2 C1123.4 223.2 1125.7 223.2 1128.0 223.2 C1130.4 223.2 1132.7 223.2 1135.0 223.2 C1137.4 223.2 1139.7 223.2 1142.0 223.2 C1144.4 223.2 1146.7 223.2 1149.0 223.2 C1151.3 223.2 1153.7 223.2 1156.0 223.2 C1158.3 223.2 1160.7 223.2 1163.0 223.2 C1165.3 223.2 1167.7 223.2 1170.0 223.2 C1172.3 223.2 1174.6 223.2 1177.0 223.2 C1179.3 223.2 1181.6 223.2 1184.0 223.2 C1186.3 223.2 1188.6 223.2 1191.0 223.2 C1193.3 223.2 1195.6 223.2 1197.9 223.2 C1200.3 223.2 1202.6 223.2 1204.9 223.2 C1207.3 223.2 1209.6 223.2 1211.9 223.2 C1214.3 223.2 1216.6 223.2 1218.9 223.2 C1221.3 223.2 1223.6 223.2 1225.9 223.2 C1228.2 223.2 1230.6 223.2 1232.9 223.2 C1235.2 223.2 1237.6 223.2 1239.9 223.2 C1242.2 223.2 1244.6 223.2 1246.9 223.2 C1249.2 223.2 1251.5 223.2 1253.9 223.2 C1256.2 223.2 1258.5 223.2 1260.9 223.2 C1263.2 223.2 1265.5 223.2 1267.9 223.2 C1270.2 223.2 1272.5 222.5 1274.8 223.2 C1277.2 223.9 1279.4 225.9 1281.7 227.3 C1284.0 228.7 1286.4 230.2 1288.7 231.7 C1291.0 233.2 1293.3 234.7 1295.6 236.2 C1297.9 237.7 1300.2 239.1 1302.5 240.6 C1304.8 242.1 1307.1 243.6 1309.5 245.1 C1311.8 246.6 1314.1 248.0 1316.4 249.5 C1318.7 251.0 1321.0 252.5 1323.3 254.0 C1325.6 255.5 1327.9 256.9 1330.2 258.4 C1332.5 259.9 1334.9 261.4 1337.2 262.9 C1339.5 264.4 1341.8 265.8 1344.1 267.3 C1346.4 268.8 1348.7 270.3 1351.0 271.8 C1353.3 273.3 1355.6 274.7 1357.9 276.2 C1360.3 277.7 1362.6 279.2 1364.9 280.7 C1367.2 282.2 1369.5 283.6 1371.8 285.1 C1374.1 286.6 1376.4 288.1 1378.7 289.6 C1381.0 291.1 1383.3 292.5 1385.7 294.0 C1388.0 295.5 1390.3 297.0 1392.6 298.5 C1394.9 300.0 1397.2 301.4 1399.5 302.9 C1401.8 304.4 1404.1 305.9 1406.4 307.4 C1408.7 308.9 1411.0 310.3 1413.4 311.8 C1415.7 313.3 1418.0 314.8 1420.3 316.3 C1422.6 317.8 1424.9 319.2 1427.2 320.7 C1429.5 322.2 1431.8 323.7 1434.1 325.2 C1436.4 326.7 1438.8 328.1 1441.1 329.6 C1443.4 331.1 1445.7 332.6 1448.0 334.1 C1450.3 335.6 1452.6 337.0 1454.9 338.5 C1457.2 340.0 1459.5 341.5 1461.8 343.0 C1464.2 344.5 1466.5 345.9 1468.8 347.4 C1471.1 348.9 1473.4 350.4 1475.7 351.9 C1478.0 353.4 1480.3 354.8 1482.6 356.3 C1484.9 357.8 1487.2 359.3 1489.6 360.8 C1491.9 362.3 1494.2 363.7 1496.5 365.2 C1498.8 366.7 1501.1 368.2 1503.4 369.7 C1505.7 371.2 1508.0 372.6 1510.3 374.1 C1512.6 375.6 1515.0 377.1 1517.3 378.6 C1519.6 380.1 1521.9 381.5 1524.2 383.0 C1526.5 384.5 1528.8 386.0 1531.1 387.5 C1533.4 389.0 1535.7 390.4 1538.0 391.9 C1540.4 393.4 1542.7 394.9 1545.0 396.4 C1547.3 397.9 1549.6 399.3 1551.9 400.8 C1554.2 402.3 1556.5 403.8 1558.8 405.3 C1561.1 406.8 1563.4 408.2 1565.8 409.7 C1568.1 411.2 1570.4 412.7 1572.7 414.2 C1575.0 415.7 1577.3 417.1 1579.6 418.6 C1581.9 420.1 1584.2 421.6 1586.5 423.1 C1588.8 424.6 1591.2 426.0 1593.5 427.5 C1595.8 429.0 1598.1 430.5 1600.4 432.0 C1602.7 433.5 1605.0 434.9 1607.3 436.4 C1609.6 437.9 1611.9 439.4 1614.2 440.9 C1616.5 442.4 1618.9 443.8 1621.2 445.3 C1623.5 446.8 1625.8 448.3 1628.1 449.8 C1630.4 451.3 1632.7 452.7 1635.0 454.2 C1637.3 455.7 1639.6 457.2 1641.9 458.7 C1644.3 460.2 1646.6 461.6 1648.9 463.1 C1651.2 464.6 1653.5 466.1 1655.8 467.6 C1658.1 469.1 1660.4 470.5 1662.7 472.0 C1665.0 473.5 1667.3 475.0 1669.7 476.5 C1672.0 478.0 1674.3 479.5 1676.6 480.9 C1678.9 482.4 1681.2 483.9 1683.5 485.4 C1685.8 486.9 1688.1 488.4 1690.4 489.8 C1692.7 491.3 1695.1 492.8 1697.4 494.3 C1699.7 495.8 1702.0 497.3 1704.3 498.7 C1706.6 500.2 1708.9 501.7 1711.2 503.2 C1713.5 504.7 1715.8 506.2 1718.1 507.6 C1720.5 509.1 1722.8 510.6 1725.1 512.1 C1727.4 513.6 1729.7 515.1 1732.0 516.5 C1734.3 518.0 1736.6 519.5 1738.9 521.0 C1741.2 522.5 1743.5 524.0 1745.9 525.4 C1748.2 526.9 1750.5 528.4 1752.8 529.9 C1755.1 531.4 1757.4 532.9 1759.7 534.3 C1762.0 535.8 1764.3 537.3 1766.6 538.8 C1768.9 540.3 1771.3 541.8 1773.6 543.2 C1775.9 544.7 1778.2 546.2 1780.5 547.7 C1782.8 549.2 1786.3 551.4 1787.4 552.1" stroke="#2A1608" stroke-width="2" fill="none" stroke-linejoin="round"/>
<path d="M1101.5 108V590" stroke="#8C8C8C" stroke-width="1.2" fill="none"/>
<circle cx="1260.8" cy="223.2" r="2.8" fill="#2E1A0C"/>
<circle cx="1260.8" cy="328.8" r="1.5" fill="#FFB061"/>
<circle cx="1260.8" cy="337.1" r="2.8" fill="#7A3A18"/>
</svg>
<div style="left:0px;top:619px;width:1919px;height:1px;background:#FFFAF4;"></div>
<div style="left:0px;top:620px;width:1919px;height:4px;background:#CD853F;"></div>
<div style="left:-1px;top:630px;width:1921px;height:345px;border:1px solid #DDDDD2;"></div>
<div style="left:7px;top:624px;width:54px;height:13px;background:#F5F5DC;"></div>
<span class="t" style="top:623.70px;font-size:11px;line-height:14px;transform:scaleY(1.1);transform-origin:0 11.0px;left:9px;">Портфель</span>
<div style="left:6px;top:646px;width:90px;height:19px;background:#fff;border:1px solid #7A7A7A;"></div>
<span class="t" style="top:649.00px;font-size:11px;line-height:14px;transform:scaleY(1.1);transform-origin:0 11.0px;left:9.6px;letter-spacing:-0.25px;">BigStmgiStr_R</span>
<svg style="left:84px;top:653px" width="10" height="7" viewBox="0 0 10 7"><path d="M1 1.2 L5 5.2 L9 1.2" fill="none" stroke="#333" stroke-width="1.1"/></svg>
<div class="btn" style="left:105px;top:645px;width:51px;height:19px;background:#E1E1E1;border:1px solid #ADADAD;line-height:19px;text-align:center;font-size:11px;"><span class="s">Импорт</span></div>
<div class="btn" style="left:166px;top:645px;width:53px;height:19px;background:#E1E1E1;border:1px solid #ADADAD;line-height:19px;text-align:center;font-size:11px;"><span class="s">Удалить</span></div>
<div class="btn" style="left:229px;top:645px;width:68px;height:19px;background:#E1E1E1;border:1px solid #ADADAD;line-height:19px;text-align:center;font-size:11px;"><span class="s">Сохранить</span></div>
<div class="cb" style="left:314px;top:650px;width:11px;height:11px;border:1px solid #CCC;background:#fff;"></div>
<span class="t" style="top:648.60px;font-size:11px;line-height:14px;transform:scaleY(1.1);transform-origin:0 11.0px;color:#A5A573;left:333px;">DH</span>
<div style="left:362px;top:647px;width:31px;height:18px;background:#F0F0F0;border:1px solid #C4C4C4;"></div><span class="t" style="top:649.20px;font-size:11px;line-height:14px;transform:scaleY(1.1);transform-origin:0 11.0px;left:364.4px;">0</span><div style="left:379px;top:648px;width:14px;height:9px;background:#F0F0F0;border:1px solid #D5D5D5;box-sizing:border-box;"></div><div style="left:379px;top:657px;width:14px;height:9px;background:#F0F0F0;border:1px solid #D5D5D5;box-sizing:border-box;"></div><svg style="left:383px;top:650px" width="7" height="14" viewBox="0 0 7 14"><path d="M0.5 3.6 L3.5 0.6 L6.5 3.6 Z M0.5 9.2 L3.5 12.2 L6.5 9.2 Z" fill="#000"/></svg>
<div style="left:401px;top:647px;width:31px;height:18px;background:#F0F0F0;border:1px solid #C4C4C4;"></div><span class="t" style="top:649.20px;font-size:11px;line-height:14px;transform:scaleY(1.1);transform-origin:0 11.0px;left:403.4px;">1</span><div style="left:418px;top:648px;width:14px;height:9px;background:#F0F0F0;border:1px solid #D5D5D5;box-sizing:border-box;"></div><div style="left:418px;top:657px;width:14px;height:9px;background:#F0F0F0;border:1px solid #D5D5D5;box-sizing:border-box;"></div><svg style="left:422px;top:650px" width="7" height="14" viewBox="0 0 7 14"><path d="M0.5 3.6 L3.5 0.6 L6.5 3.6 Z M0.5 9.2 L3.5 12.2 L6.5 9.2 Z" fill="#000"/></svg>
<div class="cb" style="left:468px;top:650px;width:11px;height:11px;border:1px solid #333;background:#fff;"></div>
<span class="t" style="top:648.60px;font-size:11px;line-height:14px;transform:scaleY(1.1);transform-origin:0 11.0px;left:487px;">M</span>
<span class="t" style="top:648.60px;font-size:11px;line-height:14px;transform:scaleY(1.1);transform-origin:0 11.0px;left:563.5px;">D</span>
<div class="tb" style="left:581px;top:646px;width:29px;height:18px;background:#F5F5DC;border:1px solid #7A7A7A;color:#000;line-height:18px;text-align:center;text-indent:0px;"><span class="s">0</span></div>
<span class="t" style="top:648.60px;font-size:11px;line-height:14px;transform:scaleY(1.1);transform-origin:0 11.0px;left:621px;">V1</span>
<div class="tb" style="left:644px;top:646px;width:29px;height:18px;background:#F5F5DC;border:1px solid #7A7A7A;color:#000;line-height:18px;text-align:center;text-indent:0px;"><span class="s">0</span></div>
<span class="t" style="top:648.60px;font-size:11px;line-height:14px;transform:scaleY(1.1);transform-origin:0 11.0px;left:684px;">V2</span>
<div class="tb" style="left:707px;top:646px;width:30px;height:18px;background:#F5F5DC;border:1px solid #CFCFCF;color:#8A8A8A;line-height:18px;text-align:center;text-indent:0px;"><span class="s">0</span></div>
<span class="t" style="top:648.60px;font-size:11px;line-height:14px;transform:scaleY(1.1);transform-origin:0 11.0px;left:773px;">P1</span>
<div class="tb" style="left:790px;top:646px;width:53px;height:18px;background:#F5F5DC;border:1px solid #7A7A7A;color:#000;line-height:18px;text-align:center;text-indent:0px;"><span class="s">0</span></div>
<span class="t" style="top:648.70px;font-size:11px;line-height:14px;transform:scaleY(1.1);transform-origin:0 11.0px;left:854.5px;">RIZ0 122860</span>
<span class="t" style="top:650.00px;font-size:11px;line-height:14px;transform:scaleY(1.1);transform-origin:0 11.0px;left:925.6px;">P2</span>
<div class="tb" style="left:951px;top:647px;width:55px;height:18px;background:#F5F5DC;border:1px solid #CFCFCF;color:#8A8A8A;line-height:18px;text-align:center;text-indent:0px;"><span class="s">0</span></div>
<div class="btn" style="left:1089px;top:644px;width:91px;height:19px;background:#E1E1E1;border:1px solid #ADADAD;line-height:19px;text-align:center;font-size:11px;"><span class="s">Рассчитать ГО</span></div>
<span class="t" style="top:650.00px;font-size:11px;line-height:14px;transform:scaleY(1.1);transform-origin:0 11.0px;left:1192px;">-17922,32 п.</span>
<div class="btn" style="left:1891px;top:644px;width:20px;height:19px;background:#E1E1E1;border:1px solid #ADADAD;line-height:19px;text-align:center;font-size:11px;"><span class="s">_</span></div>
<div style="left:6px;top:673px;width:1906px;height:300px;border:1px solid #000;border-bottom:none;background:#F5F5DC;"></div>
<div style="left:7px;top:674px;width:1904px;height:273px;border:1px solid #000;border-bottom:none;"></div>
<div style="left:8px;top:675px;width:1904px;height:29px;background:#CD853F;"></div>
<div style="left:8px;top:675px;width:1904px;height:1px;background:#F3E3CC;"></div>
<div style="left:8px;top:676px;width:1px;height:28px;background:#F6E6D0;"></div>
<span class="t" style="top:683.80px;font-size:11px;line-height:14px;transform:scaleY(1.1);transform-origin:0 11.0px;left:-168.0px;width:400px;text-align:center;">Расчет</span>
<div style="left:58px;top:676px;width:1px;height:28px;background:#F6E6D0;"></div>
<div style="left:57px;top:677px;width:1px;height:27px;background:#B87A3C;"></div>
<span class="t" style="top:683.80px;font-size:11px;line-height:14px;transform:scaleY(1.1);transform-origin:0 11.0px;left:282.0px;width:400px;text-align:center;">Код бумаги</span>
<div style="left:908px;top:676px;width:1px;height:28px;background:#F6E6D0;"></div>
<div style="left:907px;top:677px;width:1px;height:27px;background:#B87A3C;"></div>
<span class="t" style="top:677.00px;font-size:11px;line-height:14px;transform:scaleY(1.1);transform-origin:0 11.0px;left:741.5px;width:400px;text-align:center;">Тип</span>
<span class="t" style="top:690.00px;font-size:11px;line-height:14px;transform:scaleY(1.1);transform-origin:0 11.0px;left:741.5px;width:400px;text-align:center;">опциона</span>
<div style="left:977px;top:676px;width:1px;height:28px;background:#F6E6D0;"></div>
<div style="left:976px;top:677px;width:1px;height:27px;background:#B87A3C;"></div>
<span class="t" style="top:677.00px;font-size:11px;line-height:14px;transform:scaleY(1.1);transform-origin:0 11.0px;left:819.5px;width:400px;text-align:center;">Дата</span>
<span class="t" style="top:690.00px;font-size:11px;line-height:14px;transform:scaleY(1.1);transform-origin:0 11.0px;left:819.5px;width:400px;text-align:center;">погашения</span>
<div style="left:1064px;top:676px;width:1px;height:28px;background:#F6E6D0;"></div>
<div style="left:1063px;top:677px;width:1px;height:27px;background:#B87A3C;"></div>
<span class="t" style="top:677.00px;font-size:11px;line-height:14px;transform:scaleY(1.1);transform-origin:0 11.0px;left:914.0px;width:400px;text-align:center;">Дней до</span>
<span class="t" style="top:690.00px;font-size:11px;line-height:14px;transform:scaleY(1.1);transform-origin:0 11.0px;left:914.0px;width:400px;text-align:center;">погашения</span>
<div style="left:1166px;top:676px;width:1px;height:28px;background:#F6E6D0;"></div>
<div style="left:1165px;top:677px;width:1px;height:27px;background:#B87A3C;"></div>
<span class="t" style="top:683.80px;font-size:11px;line-height:14px;transform:scaleY(1.1);transform-origin:0 11.0px;left:1001.0px;width:400px;text-align:center;">Количество</span>
<div style="left:1238px;top:676px;width:1px;height:28px;background:#F6E6D0;"></div>
<div style="left:1237px;top:677px;width:1px;height:27px;background:#B87A3C;"></div>
<span class="t" style="top:677.00px;font-size:11px;line-height:14px;transform:scaleY(1.1);transform-origin:0 11.0px;left:1077.5px;width:400px;text-align:center;">Цена</span>
<span class="t" style="top:690.00px;font-size:11px;line-height:14px;transform:scaleY(1.1);transform-origin:0 11.0px;left:1077.5px;width:400px;text-align:center;">открытия</span>
<div style="left:1319px;top:676px;width:1px;height:28px;background:#F6E6D0;"></div>
<div style="left:1318px;top:677px;width:1px;height:27px;background:#B87A3C;"></div>
<span class="t" style="top:677.00px;font-size:11px;line-height:14px;transform:scaleY(1.1);transform-origin:0 11.0px;left:1181.5px;width:400px;text-align:center;">Волатильность</span>
<span class="t" style="top:690.00px;font-size:11px;line-height:14px;transform:scaleY(1.1);transform-origin:0 11.0px;left:1181.5px;width:400px;text-align:center;">открытия</span>
<div style="left:1446px;top:676px;width:1px;height:28px;background:#F6E6D0;"></div>
<div style="left:1445px;top:677px;width:1px;height:27px;background:#B87A3C;"></div>
<span class="t" style="top:677.00px;font-size:11px;line-height:14px;transform:scaleY(1.1);transform-origin:0 11.0px;left:1297.5px;width:400px;text-align:center;">Теоретическая</span>
<span class="t" style="top:690.00px;font-size:11px;line-height:14px;transform:scaleY(1.1);transform-origin:0 11.0px;left:1297.5px;width:400px;text-align:center;">цена</span>
<div style="left:1551px;top:676px;width:1px;height:28px;background:#F6E6D0;"></div>
<div style="left:1550px;top:677px;width:1px;height:27px;background:#B87A3C;"></div>
<span class="t" style="top:683.80px;font-size:11px;line-height:14px;transform:scaleY(1.1);transform-origin:0 11.0px;left:1376.0px;width:400px;text-align:center;">Профит</span>
<div style="left:1603px;top:676px;width:1px;height:28px;background:#F6E6D0;"></div>
<div style="left:1602px;top:677px;width:1px;height:27px;background:#B87A3C;"></div>
<span class="t" style="top:683.80px;font-size:11px;line-height:14px;transform:scaleY(1.1);transform-origin:0 11.0px;left:1447.0px;width:400px;text-align:center;">Волатильность</span>
<div style="left:1693px;top:676px;width:1px;height:28px;background:#F6E6D0;"></div>
<div style="left:1692px;top:677px;width:1px;height:27px;background:#B87A3C;"></div>
<span class="t" style="top:683.80px;font-size:11px;line-height:14px;transform:scaleY(1.1);transform-origin:0 11.0px;left:1517.5px;width:400px;text-align:center;">Дельта</span>
<div style="left:1744px;top:676px;width:1px;height:28px;background:#F6E6D0;"></div>
<div style="left:1743px;top:677px;width:1px;height:27px;background:#B87A3C;"></div>
<span class="t" style="top:683.80px;font-size:11px;line-height:14px;transform:scaleY(1.1);transform-origin:0 11.0px;left:1571.0px;width:400px;text-align:center;">Гамма</span>
<div style="left:1800px;top:676px;width:1px;height:28px;background:#F6E6D0;"></div>
<div style="left:1799px;top:677px;width:1px;height:27px;background:#B87A3C;"></div>
<span class="t" style="top:683.80px;font-size:11px;line-height:14px;transform:scaleY(1.1);transform-origin:0 11.0px;left:1621.0px;width:400px;text-align:center;">Вега</span>
<div style="left:1844px;top:676px;width:1px;height:28px;background:#F6E6D0;"></div>
<div style="left:1843px;top:677px;width:1px;height:27px;background:#B87A3C;"></div>
<span class="t" style="top:683.80px;font-size:11px;line-height:14px;transform:scaleY(1.1);transform-origin:0 11.0px;left:1665.0px;width:400px;text-align:center;">Тета</span>
<div style="left:1888px;top:676px;width:1px;height:28px;background:#F6E6D0;"></div>
<div style="left:1887px;top:677px;width:1px;height:27px;background:#B87A3C;"></div>
<span class="t" style="top:683.80px;font-size:11px;line-height:14px;transform:scaleY(1.1);transform-origin:0 11.0px;left:1699.5px;width:400px;text-align:center;">X</span>
<div class="cb" style="left:26px;top:709px;width:11px;height:11px;border:1px solid #333;background:#fff;"><svg viewBox="0 0 13 13" width="13" height="13"><path d="M2.3 6.8 L5.2 9.6 L10.8 3.2" fill="none" stroke="#3A3A3A" stroke-width="1.5"/></svg></div>
<span class="t" style="top:709.00px;font-size:11px;line-height:14px;transform:scaleY(1.1);transform-origin:0 11.0px;left:281.8px;width:400px;text-align:center;letter-spacing:-0.15px;">RI110000BX0</span>
<span class="t" style="top:709.00px;font-size:11px;line-height:14px;transform:scaleY(1.1);transform-origin:0 11.0px;left:741.3px;width:400px;text-align:center;letter-spacing:-0.15px;">Put</span>
<span class="t" style="top:709.00px;font-size:11px;line-height:14px;transform:scaleY(1.1);transform-origin:0 11.0px;left:819.3px;width:400px;text-align:center;letter-spacing:-0.15px;">17.12.2020</span>
<span class="t" style="top:709.00px;font-size:11px;line-height:14px;transform:scaleY(1.1);transform-origin:0 11.0px;left:913.8px;width:400px;text-align:center;letter-spacing:-0.15px;">34</span>
<span class="t" style="top:709.00px;font-size:11px;line-height:14px;transform:scaleY(1.1);transform-origin:0 11.0px;left:1000.8px;width:400px;text-align:center;letter-spacing:-0.15px;">-5</span>
<div style="left:1238px;top:705px;width:80px;height:21px;background:#0078D7;"></div>
<span class="t" style="top:709.00px;font-size:11px;line-height:14px;transform:scaleY(1.1);transform-origin:0 11.0px;color:#fff;left:1077.3px;width:400px;text-align:center;letter-spacing:-0.15px;">940</span>
<span class="t" style="top:709.00px;font-size:11px;line-height:14px;transform:scaleY(1.1);transform-origin:0 11.0px;left:1181.3px;width:400px;text-align:center;letter-spacing:-0.15px;">34,75</span>
<span class="t" style="top:709.00px;font-size:11px;line-height:14px;transform:scaleY(1.1);transform-origin:0 11.0px;left:1297.3px;width:400px;text-align:center;letter-spacing:-0.15px;">985,77</span>
<div style="left:1551px;top:705px;width:51px;height:21px;background:#FFB6C1;"></div>
<span class="t" style="top:709.00px;font-size:11px;line-height:14px;transform:scaleY(1.1);transform-origin:0 11.0px;left:1375.8px;width:400px;text-align:center;letter-spacing:-0.15px;">-228,85</span>
<span class="t" style="top:709.00px;font-size:11px;line-height:14px;transform:scaleY(1.1);transform-origin:0 11.0px;left:1446.8px;width:400px;text-align:center;letter-spacing:-0.15px;">35,31</span>
<span class="t" style="top:709.00px;font-size:11px;line-height:14px;transform:scaleY(1.1);transform-origin:0 11.0px;left:1517.3px;width:400px;text-align:center;letter-spacing:-0.15px;">0,7</span>
<span class="t" style="top:709.00px;font-size:11px;line-height:14px;transform:scaleY(1.1);transform-origin:0 11.0px;left:1570.8px;width:400px;text-align:center;letter-spacing:-0.15px;">-8,4E-05</span>
<span class="t" style="top:709.00px;font-size:11px;line-height:14px;transform:scaleY(1.1);transform-origin:0 11.0px;left:1620.8px;width:400px;text-align:center;letter-spacing:-0.15px;">-415,62</span>
<span class="t" style="top:709.00px;font-size:11px;line-height:14px;transform:scaleY(1.1);transform-origin:0 11.0px;left:1664.8px;width:400px;text-align:center;letter-spacing:-0.15px;">216,78</span>
<div class="btn" style="left:1889px;top:706px;width:20px;height:17px;background:#E1E1E1;border:1px solid #ADADAD;line-height:17px;text-align:center;font-size:11px;"><span class="s">X</span></div>
<div style="left:8px;top:726px;width:1904px;height:1px;background:#000;"></div>
<div class="cb" style="left:26px;top:731px;width:11px;height:11px;border:1px solid #333;background:#fff;"><svg viewBox="0 0 13 13" width="13" height="13"><path d="M2.3 6.8 L5.2 9.6 L10.8 3.2" fill="none" stroke="#3A3A3A" stroke-width="1.5"/></svg></div>
<span class="t" style="top:731.00px;font-size:11px;line-height:14px;transform:scaleY(1.1);transform-origin:0 11.0px;left:281.8px;width:400px;text-align:center;letter-spacing:-0.15px;">RI90000BX0</span>
<span class="t" style="top:731.00px;font-size:11px;line-height:14px;transform:scaleY(1.1);transform-origin:0 11.0px;left:741.3px;width:400px;text-align:center;letter-spacing:-0.15px;">Put</span>
<span class="t" style="top:731.00px;font-size:11px;line-height:14px;transform:scaleY(1.1);transform-origin:0 11.0px;left:819.3px;width:400px;text-align:center;letter-spacing:-0.15px;">17.12.2020</span>
<span class="t" style="top:731.00px;font-size:11px;line-height:14px;transform:scaleY(1.1);transform-origin:0 11.0px;left:913.8px;width:400px;text-align:center;letter-spacing:-0.15px;">34</span>
<span class="t" style="top:731.00px;font-size:11px;line-height:14px;transform:scaleY(1.1);transform-origin:0 11.0px;left:1000.8px;width:400px;text-align:center;letter-spacing:-0.15px;">5</span>
<span class="t" style="top:731.00px;font-size:11px;line-height:14px;transform:scaleY(1.1);transform-origin:0 11.0px;left:1077.3px;width:400px;text-align:center;letter-spacing:-0.15px;">230</span>
<span class="t" style="top:731.00px;font-size:11px;line-height:14px;transform:scaleY(1.1);transform-origin:0 11.0px;left:1181.3px;width:400px;text-align:center;letter-spacing:-0.15px;">55,59</span>
<span class="t" style="top:731.00px;font-size:11px;line-height:14px;transform:scaleY(1.1);transform-origin:0 11.0px;left:1297.3px;width:400px;text-align:center;letter-spacing:-0.15px;">194,55</span>
<div style="left:1551px;top:727px;width:51px;height:21px;background:#FFB6C1;"></div>
<span class="t" style="top:731.00px;font-size:11px;line-height:14px;transform:scaleY(1.1);transform-origin:0 11.0px;left:1375.8px;width:400px;text-align:center;letter-spacing:-0.15px;">-177,25</span>
<span class="t" style="top:731.00px;font-size:11px;line-height:14px;transform:scaleY(1.1);transform-origin:0 11.0px;left:1446.8px;width:400px;text-align:center;letter-spacing:-0.15px;">54,01</span>
<span class="t" style="top:731.00px;font-size:11px;line-height:14px;transform:scaleY(1.1);transform-origin:0 11.0px;left:1517.3px;width:400px;text-align:center;letter-spacing:-0.15px;">-0,12</span>
<span class="t" style="top:731.00px;font-size:11px;line-height:14px;transform:scaleY(1.1);transform-origin:0 11.0px;left:1570.8px;width:400px;text-align:center;letter-spacing:-0.15px;">1,4E-05</span>
<span class="t" style="top:731.00px;font-size:11px;line-height:14px;transform:scaleY(1.1);transform-origin:0 11.0px;left:1620.8px;width:400px;text-align:center;letter-spacing:-0.15px;">106,25</span>
<span class="t" style="top:731.00px;font-size:11px;line-height:14px;transform:scaleY(1.1);transform-origin:0 11.0px;left:1664.8px;width:400px;text-align:center;letter-spacing:-0.15px;">-84,76</span>
<div class="btn" style="left:1889px;top:728px;width:20px;height:17px;background:#E1E1E1;border:1px solid #ADADAD;line-height:17px;text-align:center;font-size:11px;"><span class="s">X</span></div>
<div style="left:8px;top:748px;width:1904px;height:1px;background:#000;"></div>
<div class="cb" style="left:26px;top:753px;width:11px;height:11px;border:1px solid #333;background:#fff;"><svg viewBox="0 0 13 13" width="13" height="13"><path d="M2.3 6.8 L5.2 9.6 L10.8 3.2" fill="none" stroke="#3A3A3A" stroke-width="1.5"/></svg></div>
<span class="t" style="top:753.00px;font-size:11px;line-height:14px;transform:scaleY(1.1);transform-origin:0 11.0px;left:281.8px;width:400px;text-align:center;letter-spacing:-0.15px;">RI120000BL0</span>
<span class="t" style="top:753.00px;font-size:11px;line-height:14px;transform:scaleY(1.1);transform-origin:0 11.0px;left:741.3px;width:400px;text-align:center;letter-spacing:-0.15px;">Call</span>
<span class="t" style="top:753.00px;font-size:11px;line-height:14px;transform:scaleY(1.1);transform-origin:0 11.0px;left:819.3px;width:400px;text-align:center;letter-spacing:-0.15px;">17.12.2020</span>
<span class="t" style="top:753.00px;font-size:11px;line-height:14px;transform:scaleY(1.1);transform-origin:0 11.0px;left:913.8px;width:400px;text-align:center;letter-spacing:-0.15px;">34</span>
<span class="t" style="top:753.00px;font-size:11px;line-height:14px;transform:scaleY(1.1);transform-origin:0 11.0px;left:1000.8px;width:400px;text-align:center;letter-spacing:-0.15px;">-5</span>
<span class="t" style="top:753.00px;font-size:11px;line-height:14px;transform:scaleY(1.1);transform-origin:0 11.0px;left:1077.3px;width:400px;text-align:center;letter-spacing:-0.15px;">1350</span>
<span class="t" style="top:753.00px;font-size:11px;line-height:14px;transform:scaleY(1.1);transform-origin:0 11.0px;left:1181.3px;width:400px;text-align:center;letter-spacing:-0.15px;">0</span>
<span class="t" style="top:753.00px;font-size:11px;line-height:14px;transform:scaleY(1.1);transform-origin:0 11.0px;left:1297.3px;width:400px;text-align:center;letter-spacing:-0.15px;">5904,88</span>
<div style="left:1551px;top:749px;width:51px;height:21px;background:#FFB6C1;"></div>
<span class="t" style="top:753.00px;font-size:11px;line-height:14px;transform:scaleY(1.1);transform-origin:0 11.0px;left:1375.8px;width:400px;text-align:center;letter-spacing:-0.15px;">-22774,4</span>
<span class="t" style="top:753.00px;font-size:11px;line-height:14px;transform:scaleY(1.1);transform-origin:0 11.0px;left:1446.8px;width:400px;text-align:center;letter-spacing:-0.15px;">29,33</span>
<span class="t" style="top:753.00px;font-size:11px;line-height:14px;transform:scaleY(1.1);transform-origin:0 11.0px;left:1517.3px;width:400px;text-align:center;letter-spacing:-0.15px;">-3,11</span>
<span class="t" style="top:753.00px;font-size:11px;line-height:14px;transform:scaleY(1.1);transform-origin:0 11.0px;left:1570.8px;width:400px;text-align:center;letter-spacing:-0.15px;">-0,000173</span>
<span class="t" style="top:753.00px;font-size:11px;line-height:14px;transform:scaleY(1.1);transform-origin:0 11.0px;left:1620.8px;width:400px;text-align:center;letter-spacing:-0.15px;">-711,66</span>
<span class="t" style="top:753.00px;font-size:11px;line-height:14px;transform:scaleY(1.1);transform-origin:0 11.0px;left:1664.8px;width:400px;text-align:center;letter-spacing:-0.15px;">308,32</span>
<div class="btn" style="left:1889px;top:750px;width:20px;height:17px;background:#E1E1E1;border:1px solid #ADADAD;line-height:17px;text-align:center;font-size:11px;"><span class="s">X</span></div>
<div style="left:8px;top:770px;width:1904px;height:1px;background:#000;"></div>
<div class="cb" style="left:26px;top:775px;width:11px;height:11px;border:1px solid #333;background:#fff;"><svg viewBox="0 0 13 13" width="13" height="13"><path d="M2.3 6.8 L5.2 9.6 L10.8 3.2" fill="none" stroke="#3A3A3A" stroke-width="1.5"/></svg></div>
<span class="t" style="top:775.00px;font-size:11px;line-height:14px;transform:scaleY(1.1);transform-origin:0 11.0px;left:281.8px;width:400px;text-align:center;letter-spacing:-0.15px;">RI90000BX0</span>
<span class="t" style="top:775.00px;font-size:11px;line-height:14px;transform:scaleY(1.1);transform-origin:0 11.0px;left:741.3px;width:400px;text-align:center;letter-spacing:-0.15px;">Put</span>
<span class="t" style="top:775.00px;font-size:11px;line-height:14px;transform:scaleY(1.1);transform-origin:0 11.0px;left:819.3px;width:400px;text-align:center;letter-spacing:-0.15px;">17.12.2020</span>
<span class="t" style="top:775.00px;font-size:11px;line-height:14px;transform:scaleY(1.1);transform-origin:0 11.0px;left:913.8px;width:400px;text-align:center;letter-spacing:-0.15px;">34</span>
<span class="t" style="top:775.00px;font-size:11px;line-height:14px;transform:scaleY(1.1);transform-origin:0 11.0px;left:1000.8px;width:400px;text-align:center;letter-spacing:-0.15px;">-5</span>
<span class="t" style="top:775.00px;font-size:11px;line-height:14px;transform:scaleY(1.1);transform-origin:0 11.0px;left:1077.3px;width:400px;text-align:center;letter-spacing:-0.15px;">1180</span>
<span class="t" style="top:775.00px;font-size:11px;line-height:14px;transform:scaleY(1.1);transform-origin:0 11.0px;left:1181.3px;width:400px;text-align:center;letter-spacing:-0.15px;">79,34</span>
<span class="t" style="top:775.00px;font-size:11px;line-height:14px;transform:scaleY(1.1);transform-origin:0 11.0px;left:1297.3px;width:400px;text-align:center;letter-spacing:-0.15px;">194,55</span>
<div style="left:1551px;top:771px;width:51px;height:21px;background:#90EE90;"></div>
<span class="t" style="top:775.00px;font-size:11px;line-height:14px;transform:scaleY(1.1);transform-origin:0 11.0px;left:1375.8px;width:400px;text-align:center;letter-spacing:-0.15px;">4927,25</span>
<span class="t" style="top:775.00px;font-size:11px;line-height:14px;transform:scaleY(1.1);transform-origin:0 11.0px;left:1446.8px;width:400px;text-align:center;letter-spacing:-0.15px;">54,01</span>
<span class="t" style="top:775.00px;font-size:11px;line-height:14px;transform:scaleY(1.1);transform-origin:0 11.0px;left:1517.3px;width:400px;text-align:center;letter-spacing:-0.15px;">0,12</span>
<span class="t" style="top:775.00px;font-size:11px;line-height:14px;transform:scaleY(1.1);transform-origin:0 11.0px;left:1570.8px;width:400px;text-align:center;letter-spacing:-0.15px;">-1,4E-05</span>
<span class="t" style="top:775.00px;font-size:11px;line-height:14px;transform:scaleY(1.1);transform-origin:0 11.0px;left:1620.8px;width:400px;text-align:center;letter-spacing:-0.15px;">-106,25</span>
<span class="t" style="top:775.00px;font-size:11px;line-height:14px;transform:scaleY(1.1);transform-origin:0 11.0px;left:1664.8px;width:400px;text-align:center;letter-spacing:-0.15px;">84,76</span>
<div class="btn" style="left:1889px;top:772px;width:20px;height:17px;background:#E1E1E1;border:1px solid #ADADAD;line-height:17px;text-align:center;font-size:11px;"><span class="s">X</span></div>
<div style="left:8px;top:792px;width:1904px;height:1px;background:#000;"></div>
<div class="cb" style="left:26px;top:797px;width:11px;height:11px;border:1px solid #333;background:#fff;"><svg viewBox="0 0 13 13" width="13" height="13"><path d="M2.3 6.8 L5.2 9.6 L10.8 3.2" fill="none" stroke="#3A3A3A" stroke-width="1.5"/></svg></div>
<span class="t" style="top:797.00px;font-size:11px;line-height:14px;transform:scaleY(1.1);transform-origin:0 11.0px;left:281.8px;width:400px;text-align:center;letter-spacing:-0.15px;">RI115000BL0</span>
<span class="t" style="top:797.00px;font-size:11px;line-height:14px;transform:scaleY(1.1);transform-origin:0 11.0px;left:741.3px;width:400px;text-align:center;letter-spacing:-0.15px;">Call</span>
<span class="t" style="top:797.00px;font-size:11px;line-height:14px;transform:scaleY(1.1);transform-origin:0 11.0px;left:819.3px;width:400px;text-align:center;letter-spacing:-0.15px;">17.12.2020</span>
<span class="t" style="top:797.00px;font-size:11px;line-height:14px;transform:scaleY(1.1);transform-origin:0 11.0px;left:913.8px;width:400px;text-align:center;letter-spacing:-0.15px;">34</span>
<span class="t" style="top:797.00px;font-size:11px;line-height:14px;transform:scaleY(1.1);transform-origin:0 11.0px;left:1000.8px;width:400px;text-align:center;letter-spacing:-0.15px;">2</span>
<span class="t" style="top:797.00px;font-size:11px;line-height:14px;transform:scaleY(1.1);transform-origin:0 11.0px;left:1077.3px;width:400px;text-align:center;letter-spacing:-0.15px;">5530</span>
<span class="t" style="top:797.00px;font-size:11px;line-height:14px;transform:scaleY(1.1);transform-origin:0 11.0px;left:1181.3px;width:400px;text-align:center;letter-spacing:-0.15px;">0</span>
<span class="t" style="top:797.00px;font-size:11px;line-height:14px;transform:scaleY(1.1);transform-origin:0 11.0px;left:1297.3px;width:400px;text-align:center;letter-spacing:-0.15px;">9571,72</span>
<div style="left:1551px;top:793px;width:51px;height:21px;background:#90EE90;"></div>
<span class="t" style="top:797.00px;font-size:11px;line-height:14px;transform:scaleY(1.1);transform-origin:0 11.0px;left:1375.8px;width:400px;text-align:center;letter-spacing:-0.15px;">8083,44</span>
<span class="t" style="top:797.00px;font-size:11px;line-height:14px;transform:scaleY(1.1);transform-origin:0 11.0px;left:1446.8px;width:400px;text-align:center;letter-spacing:-0.15px;">31,97</span>
<span class="t" style="top:797.00px;font-size:11px;line-height:14px;transform:scaleY(1.1);transform-origin:0 11.0px;left:1517.3px;width:400px;text-align:center;letter-spacing:-0.15px;">1,53</span>
<span class="t" style="top:797.00px;font-size:11px;line-height:14px;transform:scaleY(1.1);transform-origin:0 11.0px;left:1570.8px;width:400px;text-align:center;letter-spacing:-0.15px;">5,1E-05</span>
<span class="t" style="top:797.00px;font-size:11px;line-height:14px;transform:scaleY(1.1);transform-origin:0 11.0px;left:1620.8px;width:400px;text-align:center;letter-spacing:-0.15px;">229,07</span>
<span class="t" style="top:797.00px;font-size:11px;line-height:14px;transform:scaleY(1.1);transform-origin:0 11.0px;left:1664.8px;width:400px;text-align:center;letter-spacing:-0.15px;">-108,18</span>
<div class="btn" style="left:1889px;top:794px;width:20px;height:17px;background:#E1E1E1;border:1px solid #ADADAD;line-height:17px;text-align:center;font-size:11px;"><span class="s">X</span></div>
<div style="left:8px;top:814px;width:1904px;height:1px;background:#000;"></div>
<div class="cb" style="left:26px;top:819px;width:11px;height:11px;border:1px solid #333;background:#fff;"><svg viewBox="0 0 13 13" width="13" height="13"><path d="M2.3 6.8 L5.2 9.6 L10.8 3.2" fill="none" stroke="#3A3A3A" stroke-width="1.5"/></svg></div>
<span class="t" style="top:819.00px;font-size:11px;line-height:14px;transform:scaleY(1.1);transform-origin:0 11.0px;left:281.8px;width:400px;text-align:center;letter-spacing:-0.15px;">RI127500BL0</span>
<span class="t" style="top:819.00px;font-size:11px;line-height:14px;transform:scaleY(1.1);transform-origin:0 11.0px;left:741.3px;width:400px;text-align:center;letter-spacing:-0.15px;">Call</span>
<span class="t" style="top:819.00px;font-size:11px;line-height:14px;transform:scaleY(1.1);transform-origin:0 11.0px;left:819.3px;width:400px;text-align:center;letter-spacing:-0.15px;">17.12.2020</span>
<span class="t" style="top:819.00px;font-size:11px;line-height:14px;transform:scaleY(1.1);transform-origin:0 11.0px;left:913.8px;width:400px;text-align:center;letter-spacing:-0.15px;">34</span>
<span class="t" style="top:819.00px;font-size:11px;line-height:14px;transform:scaleY(1.1);transform-origin:0 11.0px;left:1000.8px;width:400px;text-align:center;letter-spacing:-0.15px;">-3</span>
<span class="t" style="top:819.00px;font-size:11px;line-height:14px;transform:scaleY(1.1);transform-origin:0 11.0px;left:1077.3px;width:400px;text-align:center;letter-spacing:-0.15px;">3040</span>
<span class="t" style="top:819.00px;font-size:11px;line-height:14px;transform:scaleY(1.1);transform-origin:0 11.0px;left:1181.3px;width:400px;text-align:center;letter-spacing:-0.15px;">33,04</span>
<span class="t" style="top:819.00px;font-size:11px;line-height:14px;transform:scaleY(1.1);transform-origin:0 11.0px;left:1297.3px;width:400px;text-align:center;letter-spacing:-0.15px;">2188,17</span>
<div style="left:1551px;top:815px;width:51px;height:21px;background:#90EE90;"></div>
<span class="t" style="top:819.00px;font-size:11px;line-height:14px;transform:scaleY(1.1);transform-origin:0 11.0px;left:1375.8px;width:400px;text-align:center;letter-spacing:-0.15px;">2555,49</span>
<span class="t" style="top:819.00px;font-size:11px;line-height:14px;transform:scaleY(1.1);transform-origin:0 11.0px;left:1446.8px;width:400px;text-align:center;letter-spacing:-0.15px;">26,95</span>
<span class="t" style="top:819.00px;font-size:11px;line-height:14px;transform:scaleY(1.1);transform-origin:0 11.0px;left:1517.3px;width:400px;text-align:center;letter-spacing:-0.15px;">-1,02</span>
<span class="t" style="top:819.00px;font-size:11px;line-height:14px;transform:scaleY(1.1);transform-origin:0 11.0px;left:1570.8px;width:400px;text-align:center;letter-spacing:-0.15px;">-0,000109</span>
<span class="t" style="top:819.00px;font-size:11px;line-height:14px;transform:scaleY(1.1);transform-origin:0 11.0px;left:1620.8px;width:400px;text-align:center;letter-spacing:-0.15px;">-411,58</span>
<span class="t" style="top:819.00px;font-size:11px;line-height:14px;transform:scaleY(1.1);transform-origin:0 11.0px;left:1664.8px;width:400px;text-align:center;letter-spacing:-0.15px;">163,84</span>
<div class="btn" style="left:1889px;top:816px;width:20px;height:17px;background:#E1E1E1;border:1px solid #ADADAD;line-height:17px;text-align:center;font-size:11px;"><span class="s">X</span></div>
<div style="left:8px;top:836px;width:1904px;height:1px;background:#000;"></div>
<div class="cb" style="left:26px;top:841px;width:11px;height:11px;border:1px solid #333;background:#fff;"><svg viewBox="0 0 13 13" width="13" height="13"><path d="M2.3 6.8 L5.2 9.6 L10.8 3.2" fill="none" stroke="#3A3A3A" stroke-width="1.5"/></svg></div>
<span class="t" style="top:841.00px;font-size:11px;line-height:14px;transform:scaleY(1.1);transform-origin:0 11.0px;left:281.8px;width:400px;text-align:center;letter-spacing:-0.15px;">RI122500BL0</span>
<span class="t" style="top:841.00px;font-size:11px;line-height:14px;transform:scaleY(1.1);transform-origin:0 11.0px;left:741.3px;width:400px;text-align:center;letter-spacing:-0.15px;">Call</span>
<span class="t" style="top:841.00px;font-size:11px;line-height:14px;transform:scaleY(1.1);transform-origin:0 11.0px;left:819.3px;width:400px;text-align:center;letter-spacing:-0.15px;">17.12.2020</span>
<span class="t" style="top:841.00px;font-size:11px;line-height:14px;transform:scaleY(1.1);transform-origin:0 11.0px;left:913.8px;width:400px;text-align:center;letter-spacing:-0.15px;">34</span>
<span class="t" style="top:841.00px;font-size:11px;line-height:14px;transform:scaleY(1.1);transform-origin:0 11.0px;left:1000.8px;width:400px;text-align:center;letter-spacing:-0.15px;">3</span>
<span class="t" style="top:841.00px;font-size:11px;line-height:14px;transform:scaleY(1.1);transform-origin:0 11.0px;left:1077.3px;width:400px;text-align:center;letter-spacing:-0.15px;">5870</span>
<span class="t" style="top:841.00px;font-size:11px;line-height:14px;transform:scaleY(1.1);transform-origin:0 11.0px;left:1181.3px;width:400px;text-align:center;letter-spacing:-0.15px;">38,18</span>
<span class="t" style="top:841.00px;font-size:11px;line-height:14px;transform:scaleY(1.1);transform-origin:0 11.0px;left:1297.3px;width:400px;text-align:center;letter-spacing:-0.15px;">4402,09</span>
<div style="left:1551px;top:837px;width:51px;height:21px;background:#FFB6C1;"></div>
<span class="t" style="top:841.00px;font-size:11px;line-height:14px;transform:scaleY(1.1);transform-origin:0 11.0px;left:1375.8px;width:400px;text-align:center;letter-spacing:-0.15px;">-4403,73</span>
<span class="t" style="top:841.00px;font-size:11px;line-height:14px;transform:scaleY(1.1);transform-origin:0 11.0px;left:1446.8px;width:400px;text-align:center;letter-spacing:-0.15px;">28,32</span>
<span class="t" style="top:841.00px;font-size:11px;line-height:14px;transform:scaleY(1.1);transform-origin:0 11.0px;left:1517.3px;width:400px;text-align:center;letter-spacing:-0.15px;">1,59</span>
<span class="t" style="top:841.00px;font-size:11px;line-height:14px;transform:scaleY(1.1);transform-origin:0 11.0px;left:1570.8px;width:400px;text-align:center;letter-spacing:-0.15px;">0,000113</span>
<span class="t" style="top:841.00px;font-size:11px;line-height:14px;transform:scaleY(1.1);transform-origin:0 11.0px;left:1620.8px;width:400px;text-align:center;letter-spacing:-0.15px;">446,46</span>
<span class="t" style="top:841.00px;font-size:11px;line-height:14px;transform:scaleY(1.1);transform-origin:0 11.0px;left:1664.8px;width:400px;text-align:center;letter-spacing:-0.15px;">-186,76</span>
<div class="btn" style="left:1889px;top:838px;width:20px;height:17px;background:#E1E1E1;border:1px solid #ADADAD;line-height:17px;text-align:center;font-size:11px;"><span class="s">X</span></div>
<div style="left:8px;top:858px;width:1904px;height:1px;background:#000;"></div>
<div class="cb" style="left:26px;top:863px;width:11px;height:11px;border:1px solid #333;background:#fff;"></div>
<span class="t" style="top:863.00px;font-size:11px;line-height:14px;transform:scaleY(1.1);transform-origin:0 11.0px;color:#F6BA7C;left:281.8px;width:400px;text-align:center;letter-spacing:-0.15px;">RI125000BK0</span>
<span class="t" style="top:863.00px;font-size:11px;line-height:14px;transform:scaleY(1.1);transform-origin:0 11.0px;color:#F6BA7C;left:741.3px;width:400px;text-align:center;letter-spacing:-0.15px;">Call</span>
<span class="t" style="top:863.00px;font-size:11px;line-height:14px;transform:scaleY(1.1);transform-origin:0 11.0px;color:#F6BA7C;left:819.3px;width:400px;text-align:center;letter-spacing:-0.15px;">19.11.2020</span>
<span class="t" style="top:863.00px;font-size:11px;line-height:14px;transform:scaleY(1.1);transform-origin:0 11.0px;color:#F6BA7C;left:913.8px;width:400px;text-align:center;letter-spacing:-0.15px;">6</span>
<span class="t" style="top:863.00px;font-size:11px;line-height:14px;transform:scaleY(1.1);transform-origin:0 11.0px;color:#F6BA7C;left:1000.8px;width:400px;text-align:center;letter-spacing:-0.15px;">1</span>
<span class="t" style="top:863.00px;font-size:11px;line-height:14px;transform:scaleY(1.1);transform-origin:0 11.0px;color:#F6BA7C;left:1077.3px;width:400px;text-align:center;letter-spacing:-0.15px;">1070</span>
<span class="t" style="top:863.00px;font-size:11px;line-height:14px;transform:scaleY(1.1);transform-origin:0 11.0px;color:#F6BA7C;left:1181.3px;width:400px;text-align:center;letter-spacing:-0.15px;">31,06</span>
<span class="t" style="top:863.00px;font-size:11px;line-height:14px;transform:scaleY(1.1);transform-origin:0 11.0px;color:#F6BA7C;left:1297.3px;width:400px;text-align:center;letter-spacing:-0.15px;">718,77</span>
<div style="left:1551px;top:859px;width:51px;height:21px;background:#FFB6C1;"></div>
<span class="t" style="top:863.00px;font-size:11px;line-height:14px;transform:scaleY(1.1);transform-origin:0 11.0px;color:#F6BA7C;left:1375.8px;width:400px;text-align:center;letter-spacing:-0.15px;">-351,23</span>
<span class="t" style="top:863.00px;font-size:11px;line-height:14px;transform:scaleY(1.1);transform-origin:0 11.0px;color:#F6BA7C;left:1446.8px;width:400px;text-align:center;letter-spacing:-0.15px;">24,78</span>
<span class="t" style="top:863.00px;font-size:11px;line-height:14px;transform:scaleY(1.1);transform-origin:0 11.0px;color:#F6BA7C;left:1517.3px;width:400px;text-align:center;letter-spacing:-0.15px;">0,3</span>
<span class="t" style="top:863.00px;font-size:11px;line-height:14px;transform:scaleY(1.1);transform-origin:0 11.0px;color:#F6BA7C;left:1570.8px;width:400px;text-align:center;letter-spacing:-0.15px;">8,9E-05</span>
<span class="t" style="top:863.00px;font-size:11px;line-height:14px;transform:scaleY(1.1);transform-origin:0 11.0px;color:#F6BA7C;left:1620.8px;width:400px;text-align:center;letter-spacing:-0.15px;">54,24</span>
<span class="t" style="top:863.00px;font-size:11px;line-height:14px;transform:scaleY(1.1);transform-origin:0 11.0px;color:#F6BA7C;left:1664.8px;width:400px;text-align:center;letter-spacing:-0.15px;">-113,4</span>
<div class="btn" style="left:1889px;top:860px;width:20px;height:17px;background:#E1E1E1;border:1px solid #ADADAD;line-height:17px;text-align:center;font-size:11px;"><span class="s">X</span></div>
<div style="left:8px;top:880px;width:1904px;height:1px;background:#000;"></div>
<div class="cb" style="left:26px;top:885px;width:11px;height:11px;border:1px solid #333;background:#fff;"></div>
<span class="t" style="top:885.00px;font-size:11px;line-height:14px;transform:scaleY(1.1);transform-origin:0 11.0px;color:#F6BA7C;left:281.8px;width:400px;text-align:center;letter-spacing:-0.15px;">RI122500BK0</span>
<span class="t" style="top:885.00px;font-size:11px;line-height:14px;transform:scaleY(1.1);transform-origin:0 11.0px;color:#F6BA7C;left:741.3px;width:400px;text-align:center;letter-spacing:-0.15px;">Call</span>
<span class="t" style="top:885.00px;font-size:11px;line-height:14px;transform:scaleY(1.1);transform-origin:0 11.0px;color:#F6BA7C;left:819.3px;width:400px;text-align:center;letter-spacing:-0.15px;">19.11.2020</span>
<span class="t" style="top:885.00px;font-size:11px;line-height:14px;transform:scaleY(1.1);transform-origin:0 11.0px;color:#F6BA7C;left:913.8px;width:400px;text-align:center;letter-spacing:-0.15px;">6</span>
<span class="t" style="top:885.00px;font-size:11px;line-height:14px;transform:scaleY(1.1);transform-origin:0 11.0px;color:#F6BA7C;left:1000.8px;width:400px;text-align:center;letter-spacing:-0.15px;">1</span>
<span class="t" style="top:885.00px;font-size:11px;line-height:14px;transform:scaleY(1.1);transform-origin:0 11.0px;color:#F6BA7C;left:1077.3px;width:400px;text-align:center;letter-spacing:-0.15px;">2200</span>
<span class="t" style="top:885.00px;font-size:11px;line-height:14px;transform:scaleY(1.1);transform-origin:0 11.0px;color:#F6BA7C;left:1181.3px;width:400px;text-align:center;letter-spacing:-0.15px;">32,31</span>
<span class="t" style="top:885.00px;font-size:11px;line-height:14px;transform:scaleY(1.1);transform-origin:0 11.0px;color:#F6BA7C;left:1297.3px;width:400px;text-align:center;letter-spacing:-0.15px;">1830,03</span>
<div style="left:1551px;top:881px;width:51px;height:21px;background:#FFB6C1;"></div>
<span class="t" style="top:885.00px;font-size:11px;line-height:14px;transform:scaleY(1.1);transform-origin:0 11.0px;color:#F6BA7C;left:1375.8px;width:400px;text-align:center;letter-spacing:-0.15px;">-369,97</span>
<span class="t" style="top:885.00px;font-size:11px;line-height:14px;transform:scaleY(1.1);transform-origin:0 11.0px;color:#F6BA7C;left:1446.8px;width:400px;text-align:center;letter-spacing:-0.15px;">26,36</span>
<span class="t" style="top:885.00px;font-size:11px;line-height:14px;transform:scaleY(1.1);transform-origin:0 11.0px;color:#F6BA7C;left:1517.3px;width:400px;text-align:center;letter-spacing:-0.15px;">0,54</span>
<span class="t" style="top:885.00px;font-size:11px;line-height:14px;transform:scaleY(1.1);transform-origin:0 11.0px;color:#F6BA7C;left:1570.8px;width:400px;text-align:center;letter-spacing:-0.15px;">9,6E-05</span>
<span class="t" style="top:885.00px;font-size:11px;line-height:14px;transform:scaleY(1.1);transform-origin:0 11.0px;color:#F6BA7C;left:1620.8px;width:400px;text-align:center;letter-spacing:-0.15px;">62,11</span>
<span class="t" style="top:885.00px;font-size:11px;line-height:14px;transform:scaleY(1.1);transform-origin:0 11.0px;color:#F6BA7C;left:1664.8px;width:400px;text-align:center;letter-spacing:-0.15px;">-138,15</span>
<div class="btn" style="left:1889px;top:882px;width:20px;height:17px;background:#E1E1E1;border:1px solid #ADADAD;line-height:17px;text-align:center;font-size:11px;"><span class="s">X</span></div>
<div style="left:8px;top:902px;width:1904px;height:1px;background:#000;"></div>
<div class="cb" style="left:26px;top:907px;width:11px;height:11px;border:1px solid #333;background:#fff;"><svg viewBox="0 0 13 13" width="13" height="13"><path d="M2.3 6.8 L5.2 9.6 L10.8 3.2" fill="none" stroke="#3A3A3A" stroke-width="1.5"/></svg></div>
<span class="t" style="top:907.00px;font-size:11px;line-height:14px;transform:scaleY(1.1);transform-origin:0 11.0px;left:281.8px;width:400px;text-align:center;letter-spacing:-0.15px;">FixedProfit</span>
<div style="left:1551px;top:903px;width:51px;height:21px;background:#90EE90;"></div>
<span class="t" style="top:907.00px;font-size:11px;line-height:14px;transform:scaleY(1.1);transform-origin:0 11.0px;left:1375.8px;width:400px;text-align:center;letter-spacing:-0.15px;">11530</span>
<div class="btn" style="left:1889px;top:904px;width:20px;height:17px;background:#E1E1E1;border:1px solid #ADADAD;line-height:17px;text-align:center;font-size:11px;"><span class="s">X</span></div>
<div style="left:8px;top:924px;width:1904px;height:1px;background:#000;"></div>
<div class="cb" style="left:26px;top:929px;width:11px;height:11px;border:1px solid #333;background:#fff;"><svg viewBox="0 0 13 13" width="13" height="13"><path d="M2.3 6.8 L5.2 9.6 L10.8 3.2" fill="none" stroke="#3A3A3A" stroke-width="1.5"/></svg></div>
<span class="t" style="top:929.00px;font-size:11px;line-height:14px;transform:scaleY(1.1);transform-origin:0 11.0px;left:281.8px;width:400px;text-align:center;letter-spacing:-0.15px;">Итого:</span>
<div style="left:1551px;top:925px;width:51px;height:21px;background:#FFB6C1;"></div>
<span class="t" style="top:929.00px;font-size:11px;line-height:14px;transform:scaleY(1.1);transform-origin:0 11.0px;left:1375.8px;width:400px;text-align:center;letter-spacing:-0.15px;">-488,05</span>
<span class="t" style="top:929.00px;font-size:11px;line-height:14px;transform:scaleY(1.1);transform-origin:0 11.0px;left:1517.3px;width:400px;text-align:center;letter-spacing:-0.15px;">-0,31</span>
<span class="t" style="top:929.00px;font-size:11px;line-height:14px;transform:scaleY(1.1);transform-origin:0 11.0px;left:1570.8px;width:400px;text-align:center;letter-spacing:-0.15px;">-0,000202</span>
<span class="t" style="top:929.00px;font-size:11px;line-height:14px;transform:scaleY(1.1);transform-origin:0 11.0px;left:1620.8px;width:400px;text-align:center;letter-spacing:-0.15px;">-863,33</span>
<span class="t" style="top:929.00px;font-size:11px;line-height:14px;transform:scaleY(1.1);transform-origin:0 11.0px;left:1664.8px;width:400px;text-align:center;letter-spacing:-0.15px;">394</span>
<div class="btn" style="left:1889px;top:926px;width:20px;height:17px;background:#E1E1E1;border:1px solid #ADADAD;line-height:17px;text-align:center;font-size:11px;"><span class="s">X</span></div>
<div style="left:8px;top:946px;width:1904px;height:1px;background:#000;"></div>
<div style="left:57px;top:705px;width:1px;height:242px;background:#000;"></div>
<div style="left:907px;top:705px;width:1px;height:242px;background:#000;"></div>
<div style="left:976px;top:705px;width:1px;height:242px;background:#000;"></div>
<div style="left:1063px;top:705px;width:1px;height:242px;background:#000;"></div>
<div style="left:1165px;top:705px;width:1px;height:242px;background:#000;"></div>
<div style="left:1237px;top:705px;width:1px;height:242px;background:#000;"></div>
<div style="left:1318px;top:705px;width:1px;height:242px;background:#000;"></div>
<div style="left:1445px;top:705px;width:1px;height:242px;background:#000;"></div>
<div style="left:1550px;top:705px;width:1px;height:242px;background:#000;"></div>
<div style="left:1602px;top:705px;width:1px;height:242px;background:#000;"></div>
<div style="left:1692px;top:705px;width:1px;height:242px;background:#000;"></div>
<div style="left:1743px;top:705px;width:1px;height:242px;background:#000;"></div>
<div style="left:1799px;top:705px;width:1px;height:242px;background:#000;"></div>
<div style="left:1843px;top:705px;width:1px;height:242px;background:#000;"></div>
<div style="left:1887px;top:705px;width:1px;height:242px;background:#000;"></div>
</body></html>
